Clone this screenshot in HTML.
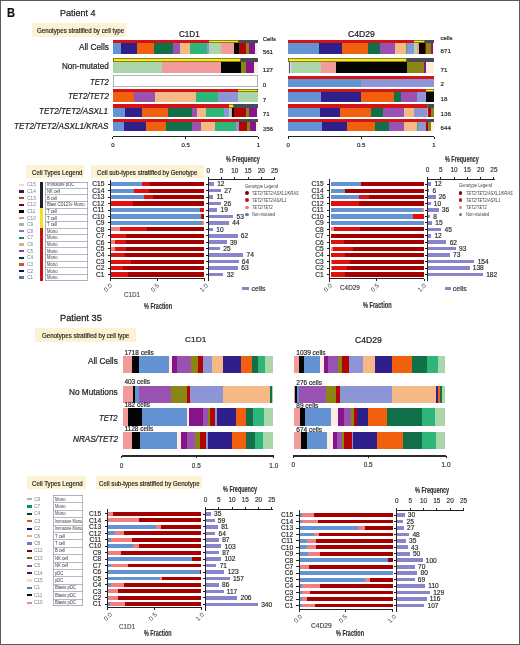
<!DOCTYPE html>
<html><head><meta charset="utf-8"><style>
html,body{margin:0;padding:0;background:#fff;}
body{will-change:transform;width:520px;height:645px;position:relative;overflow:hidden;font-family:"Liberation Sans",sans-serif;}
.r{position:absolute;}
.t{position:absolute;white-space:nowrap;line-height:1;transform-origin:0 0;}
</style></head><body>
<div class="r" style="left:0.00px;top:0.00px;width:520.00px;height:1.10px;background:#5a5a5a;"></div>
<div class="r" style="left:0.00px;top:0.00px;width:1.10px;height:645.00px;background:#5a5a5a;"></div>
<div class="r" style="left:518.80px;top:0.00px;width:1.20px;height:645.00px;background:#5a5a5a;"></div>
<div class="r" style="left:0.00px;top:643.70px;width:520.00px;height:1.30px;background:#5a5a5a;"></div>
<div class="t" style="left:7.00px;top:7.00px;font-size:12.20px;color:#111;font-weight:bold;-webkit-text-stroke:0.18px #111;transform:scaleX(0.908);">B</div>
<div class="t" style="left:59.80px;top:8.00px;font-size:9.60px;color:#222;-webkit-text-stroke:0.25px #222;transform:scaleX(0.939);">Patient 4</div>
<div class="r" style="left:32.00px;top:23.00px;width:94.00px;height:13.80px;background:#fcf2d4;"></div>
<div class="t" style="left:37.30px;top:28.00px;font-size:6.60px;color:#222;-webkit-text-stroke:0.17px #222;transform:scaleX(0.933);">Genotypes stratified by cell type</div>
<div class="t" style="left:178.80px;top:29.00px;font-size:9.40px;color:#222;-webkit-text-stroke:0.24px #222;transform:scaleX(0.865);">C1D1</div>
<div class="t" style="left:348.20px;top:30.00px;font-size:9.00px;color:#222;-webkit-text-stroke:0.23px #222;transform:scaleX(0.957);">C4D29</div>
<div class="r" style="left:113.00px;top:43.30px;width:145.00px;height:10.70px;background:#feeee2;"></div>
<div class="r" style="left:113.00px;top:43.30px;width:142.40px;height:10.70px;background:#88138c;"></div>
<div class="r" style="left:113.00px;top:43.30px;width:136.00px;height:10.70px;background:#8a8612;"></div>
<div class="r" style="left:113.00px;top:43.30px;width:132.60px;height:10.70px;background:#b20404;"></div>
<div class="r" style="left:113.00px;top:43.30px;width:125.70px;height:10.70px;background:#050505;"></div>
<div class="r" style="left:113.00px;top:43.30px;width:121.40px;height:10.70px;background:#f29b9b;"></div>
<div class="r" style="left:113.00px;top:43.30px;width:107.50px;height:10.70px;background:#abd6aa;"></div>
<div class="r" style="left:113.00px;top:43.30px;width:95.60px;height:10.70px;background:#8c95d6;"></div>
<div class="r" style="left:113.00px;top:43.30px;width:93.70px;height:10.70px;background:#2eb57a;"></div>
<div class="r" style="left:113.00px;top:43.30px;width:77.20px;height:10.70px;background:#f6b985;"></div>
<div class="r" style="left:113.00px;top:43.30px;width:66.80px;height:10.70px;background:#9a52b2;"></div>
<div class="r" style="left:113.00px;top:43.30px;width:59.90px;height:10.70px;background:#11704a;"></div>
<div class="r" style="left:113.00px;top:43.30px;width:41.40px;height:10.70px;background:#f1600f;"></div>
<div class="r" style="left:113.00px;top:43.30px;width:24.30px;height:10.70px;background:#2f1f8a;"></div>
<div class="r" style="left:113.00px;top:43.30px;width:8.20px;height:10.70px;background:#6393d3;"></div>
<div class="r" style="left:113.00px;top:40.00px;width:145.00px;height:3.30px;background:#474a57;"></div>
<div class="r" style="left:113.00px;top:40.00px;width:125.70px;height:3.30px;background:#f6e626;box-shadow:inset 0 0 0 0.85px #6a6210;"></div>
<div class="r" style="left:113.00px;top:40.00px;width:95.60px;height:3.30px;background:#d21414;"></div>
<div class="r" style="left:113.00px;top:62.00px;width:145.00px;height:10.60px;background:#feeee2;"></div>
<div class="r" style="left:113.00px;top:62.00px;width:140.60px;height:10.60px;background:#88138c;"></div>
<div class="r" style="left:113.00px;top:62.00px;width:133.00px;height:10.60px;background:#8a8612;"></div>
<div class="r" style="left:113.00px;top:62.00px;width:128.00px;height:10.60px;background:#050505;"></div>
<div class="r" style="left:113.00px;top:62.00px;width:108.30px;height:10.60px;background:#f29b9b;"></div>
<div class="r" style="left:113.00px;top:62.00px;width:49.30px;height:10.60px;background:#abd6aa;"></div>
<div class="r" style="left:113.00px;top:58.30px;width:145.00px;height:3.70px;background:#474a57;"></div>
<div class="r" style="left:113.00px;top:58.30px;width:128.00px;height:3.70px;background:#f6e626;box-shadow:inset 0 0 0 0.85px #6a6210;"></div>
<div class="r" style="left:113.00px;top:75.30px;width:145.00px;height:11.70px;background:#fff;box-shadow:inset 0 0 0 0.8px #9a9aa4;"></div>
<div class="r" style="left:113.00px;top:91.80px;width:145.00px;height:9.90px;background:#abd6aa;"></div>
<div class="r" style="left:113.00px;top:91.80px;width:124.80px;height:9.90px;background:#8c95d6;"></div>
<div class="r" style="left:113.00px;top:91.80px;width:104.50px;height:9.90px;background:#2eb57a;"></div>
<div class="r" style="left:113.00px;top:91.80px;width:82.80px;height:9.90px;background:#f6b985;"></div>
<div class="r" style="left:113.00px;top:91.80px;width:41.60px;height:9.90px;background:#9a52b2;"></div>
<div class="r" style="left:113.00px;top:91.80px;width:20.80px;height:9.90px;background:#f1600f;"></div>
<div class="r" style="left:113.00px;top:88.50px;width:145.00px;height:3.30px;background:#f6e626;box-shadow:inset 0 0 0 0.85px #6a6210;"></div>
<div class="r" style="left:113.00px;top:88.50px;width:124.80px;height:3.30px;background:#d21414;"></div>
<div class="r" style="left:113.00px;top:107.50px;width:145.00px;height:9.20px;background:#feeee2;"></div>
<div class="r" style="left:113.00px;top:107.50px;width:143.50px;height:9.20px;background:#88138c;"></div>
<div class="r" style="left:113.00px;top:107.50px;width:135.50px;height:9.20px;background:#8a8612;"></div>
<div class="r" style="left:113.00px;top:107.50px;width:133.20px;height:9.20px;background:#b20404;"></div>
<div class="r" style="left:113.00px;top:107.50px;width:121.00px;height:9.20px;background:#050505;"></div>
<div class="r" style="left:113.00px;top:107.50px;width:118.70px;height:9.20px;background:#f29b9b;"></div>
<div class="r" style="left:113.00px;top:107.50px;width:117.50px;height:9.20px;background:#abd6aa;"></div>
<div class="r" style="left:113.00px;top:107.50px;width:116.20px;height:9.20px;background:#8c95d6;"></div>
<div class="r" style="left:113.00px;top:107.50px;width:111.20px;height:9.20px;background:#2eb57a;"></div>
<div class="r" style="left:113.00px;top:107.50px;width:92.50px;height:9.20px;background:#f6b985;"></div>
<div class="r" style="left:113.00px;top:107.50px;width:83.70px;height:9.20px;background:#9a52b2;"></div>
<div class="r" style="left:113.00px;top:107.50px;width:78.70px;height:9.20px;background:#11704a;"></div>
<div class="r" style="left:113.00px;top:107.50px;width:55.30px;height:9.20px;background:#f1600f;"></div>
<div class="r" style="left:113.00px;top:107.50px;width:28.70px;height:9.20px;background:#2f1f8a;"></div>
<div class="r" style="left:113.00px;top:107.50px;width:12.20px;height:9.20px;background:#6393d3;"></div>
<div class="r" style="left:113.00px;top:104.00px;width:145.00px;height:3.50px;background:#474a57;"></div>
<div class="r" style="left:113.00px;top:104.00px;width:121.00px;height:3.50px;background:#f6e626;box-shadow:inset 0 0 0 0.85px #6a6210;"></div>
<div class="r" style="left:113.00px;top:104.00px;width:116.20px;height:3.50px;background:#d21414;"></div>
<div class="r" style="left:113.00px;top:122.20px;width:145.00px;height:8.80px;background:#feeee2;"></div>
<div class="r" style="left:113.00px;top:122.20px;width:143.00px;height:8.80px;background:#88138c;"></div>
<div class="r" style="left:113.00px;top:122.20px;width:136.60px;height:8.80px;background:#8a8612;"></div>
<div class="r" style="left:113.00px;top:122.20px;width:133.70px;height:8.80px;background:#b20404;"></div>
<div class="r" style="left:113.00px;top:122.20px;width:125.50px;height:8.80px;background:#8c95d6;"></div>
<div class="r" style="left:113.00px;top:122.20px;width:123.30px;height:8.80px;background:#2eb57a;"></div>
<div class="r" style="left:113.00px;top:122.20px;width:101.50px;height:8.80px;background:#f6b985;"></div>
<div class="r" style="left:113.00px;top:122.20px;width:87.60px;height:8.80px;background:#9a52b2;"></div>
<div class="r" style="left:113.00px;top:122.20px;width:79.00px;height:8.80px;background:#11704a;"></div>
<div class="r" style="left:113.00px;top:122.20px;width:53.30px;height:8.80px;background:#f1600f;"></div>
<div class="r" style="left:113.00px;top:122.20px;width:33.00px;height:8.80px;background:#2f1f8a;"></div>
<div class="r" style="left:113.00px;top:122.20px;width:10.70px;height:8.80px;background:#6393d3;"></div>
<div class="r" style="left:113.00px;top:119.00px;width:145.00px;height:3.20px;background:#474a57;"></div>
<div class="r" style="left:113.00px;top:119.00px;width:125.50px;height:3.20px;background:#d21414;"></div>
<div class="r" style="left:288.20px;top:43.30px;width:145.40px;height:10.70px;background:#feeee2;"></div>
<div class="r" style="left:288.20px;top:43.30px;width:144.60px;height:10.70px;background:#88138c;"></div>
<div class="r" style="left:288.20px;top:43.30px;width:142.80px;height:10.70px;background:#8a8612;"></div>
<div class="r" style="left:288.20px;top:43.30px;width:137.60px;height:10.70px;background:#b20404;"></div>
<div class="r" style="left:288.20px;top:43.30px;width:136.40px;height:10.70px;background:#050505;"></div>
<div class="r" style="left:288.20px;top:43.30px;width:130.60px;height:10.70px;background:#f29b9b;"></div>
<div class="r" style="left:288.20px;top:43.30px;width:129.30px;height:10.70px;background:#abd6aa;"></div>
<div class="r" style="left:288.20px;top:43.30px;width:126.30px;height:10.70px;background:#8c95d6;"></div>
<div class="r" style="left:288.20px;top:43.30px;width:119.30px;height:10.70px;background:#2eb57a;"></div>
<div class="r" style="left:288.20px;top:43.30px;width:117.40px;height:10.70px;background:#f6b985;"></div>
<div class="r" style="left:288.20px;top:43.30px;width:107.00px;height:10.70px;background:#9a52b2;"></div>
<div class="r" style="left:288.20px;top:43.30px;width:91.60px;height:10.70px;background:#11704a;"></div>
<div class="r" style="left:288.20px;top:43.30px;width:79.70px;height:10.70px;background:#f1600f;"></div>
<div class="r" style="left:288.20px;top:43.30px;width:53.90px;height:10.70px;background:#2f1f8a;"></div>
<div class="r" style="left:288.20px;top:43.30px;width:30.80px;height:10.70px;background:#6393d3;"></div>
<div class="r" style="left:288.20px;top:40.00px;width:145.40px;height:3.30px;background:#474a57;"></div>
<div class="r" style="left:288.20px;top:40.00px;width:136.40px;height:3.30px;background:#f6e626;box-shadow:inset 0 0 0 0.85px #6a6210;"></div>
<div class="r" style="left:288.20px;top:40.00px;width:126.30px;height:3.30px;background:#d21414;"></div>
<div class="r" style="left:288.20px;top:62.00px;width:145.40px;height:10.60px;background:#feeee2;"></div>
<div class="r" style="left:288.20px;top:62.00px;width:137.80px;height:10.60px;background:#88138c;"></div>
<div class="r" style="left:288.20px;top:62.00px;width:135.80px;height:10.60px;background:#8a8612;"></div>
<div class="r" style="left:288.20px;top:62.00px;width:119.10px;height:10.60px;background:#050505;"></div>
<div class="r" style="left:288.20px;top:62.00px;width:47.60px;height:10.60px;background:#f29b9b;"></div>
<div class="r" style="left:288.20px;top:62.00px;width:33.10px;height:10.60px;background:#abd6aa;"></div>
<div class="r" style="left:288.20px;top:62.00px;width:3.10px;height:10.60px;background:#d6e2ea;"></div>
<div class="r" style="left:288.20px;top:62.00px;width:2.20px;height:10.60px;background:#5c4a86;"></div>
<div class="r" style="left:288.20px;top:62.00px;width:0.50px;height:10.60px;background:#f4eef4;"></div>
<div class="r" style="left:288.20px;top:58.30px;width:145.40px;height:3.70px;background:#474a57;"></div>
<div class="r" style="left:288.20px;top:58.30px;width:119.10px;height:3.70px;background:#f6e626;box-shadow:inset 0 0 0 0.85px #6a6210;"></div>
<div class="r" style="left:288.20px;top:79.00px;width:145.40px;height:8.20px;background:#8c95d6;"></div>
<div class="r" style="left:288.20px;top:79.00px;width:72.60px;height:8.20px;background:#6393d3;"></div>
<div class="r" style="left:288.20px;top:75.50px;width:145.40px;height:3.50px;background:#d21414;"></div>
<div class="r" style="left:288.20px;top:91.80px;width:145.40px;height:9.90px;background:#050505;"></div>
<div class="r" style="left:288.20px;top:91.80px;width:137.80px;height:9.90px;background:#8c95d6;"></div>
<div class="r" style="left:288.20px;top:91.80px;width:128.90px;height:9.90px;background:#9a52b2;"></div>
<div class="r" style="left:288.20px;top:91.80px;width:113.30px;height:9.90px;background:#11704a;"></div>
<div class="r" style="left:288.20px;top:91.80px;width:105.80px;height:9.90px;background:#f1600f;"></div>
<div class="r" style="left:288.20px;top:91.80px;width:73.10px;height:9.90px;background:#2f1f8a;"></div>
<div class="r" style="left:288.20px;top:91.80px;width:32.80px;height:9.90px;background:#6393d3;"></div>
<div class="r" style="left:288.20px;top:88.50px;width:145.40px;height:3.30px;background:#f6e626;box-shadow:inset 0 0 0 0.85px #6a6210;"></div>
<div class="r" style="left:288.20px;top:88.50px;width:137.80px;height:3.30px;background:#d21414;"></div>
<div class="r" style="left:288.20px;top:107.50px;width:145.40px;height:9.20px;background:#8a8612;"></div>
<div class="r" style="left:288.20px;top:107.50px;width:142.80px;height:9.20px;background:#b20404;"></div>
<div class="r" style="left:288.20px;top:107.50px;width:139.80px;height:9.20px;background:#f29b9b;"></div>
<div class="r" style="left:288.20px;top:107.50px;width:138.50px;height:9.20px;background:#8c95d6;"></div>
<div class="r" style="left:288.20px;top:107.50px;width:126.00px;height:9.20px;background:#f6b985;"></div>
<div class="r" style="left:288.20px;top:107.50px;width:115.60px;height:9.20px;background:#9a52b2;"></div>
<div class="r" style="left:288.20px;top:107.50px;width:94.80px;height:9.20px;background:#11704a;"></div>
<div class="r" style="left:288.20px;top:107.50px;width:83.00px;height:9.20px;background:#f1600f;"></div>
<div class="r" style="left:288.20px;top:107.50px;width:51.80px;height:9.20px;background:#2f1f8a;"></div>
<div class="r" style="left:288.20px;top:107.50px;width:31.60px;height:9.20px;background:#6393d3;"></div>
<div class="r" style="left:288.20px;top:104.00px;width:145.40px;height:3.50px;background:#474a57;"></div>
<div class="r" style="left:288.20px;top:104.00px;width:139.80px;height:3.50px;background:#f6e626;box-shadow:inset 0 0 0 0.85px #6a6210;"></div>
<div class="r" style="left:288.20px;top:104.00px;width:138.50px;height:3.50px;background:#d21414;"></div>
<div class="r" style="left:288.20px;top:122.20px;width:145.40px;height:8.80px;background:#feeee2;"></div>
<div class="r" style="left:288.20px;top:122.20px;width:142.80px;height:8.80px;background:#8a8612;"></div>
<div class="r" style="left:288.20px;top:122.20px;width:139.80px;height:8.80px;background:#b20404;"></div>
<div class="r" style="left:288.20px;top:122.20px;width:137.60px;height:8.80px;background:#8c95d6;"></div>
<div class="r" style="left:288.20px;top:122.20px;width:130.10px;height:8.80px;background:#2eb57a;"></div>
<div class="r" style="left:288.20px;top:122.20px;width:128.60px;height:8.80px;background:#f6b985;"></div>
<div class="r" style="left:288.20px;top:122.20px;width:116.20px;height:8.80px;background:#9a52b2;"></div>
<div class="r" style="left:288.20px;top:122.20px;width:100.80px;height:8.80px;background:#11704a;"></div>
<div class="r" style="left:288.20px;top:122.20px;width:87.00px;height:8.80px;background:#f1600f;"></div>
<div class="r" style="left:288.20px;top:122.20px;width:59.30px;height:8.80px;background:#2f1f8a;"></div>
<div class="r" style="left:288.20px;top:122.20px;width:33.50px;height:8.80px;background:#6393d3;"></div>
<div class="r" style="left:288.20px;top:119.00px;width:145.40px;height:3.20px;background:#474a57;"></div>
<div class="r" style="left:288.20px;top:119.00px;width:137.60px;height:3.20px;background:#d21414;"></div>
<div class="t" style="left:78.50px;top:43.00px;font-size:9.20px;color:#222;-webkit-text-stroke:0.24px #222;transform:scaleX(0.900);">All Cells</div>
<div class="t" style="left:61.50px;top:62.00px;font-size:9.20px;color:#222;-webkit-text-stroke:0.24px #222;transform:scaleX(0.882);">Non-mutated</div>
<div class="t" style="left:89.60px;top:78.00px;font-size:9.20px;color:#222;-webkit-text-stroke:0.24px #222;font-style:italic;transform:scaleX(0.836);">TET2</div>
<div class="t" style="left:67.50px;top:92.00px;font-size:9.20px;color:#222;-webkit-text-stroke:0.24px #222;font-style:italic;transform:scaleX(0.860);">TET2/TET2</div>
<div class="t" style="left:39.40px;top:107.00px;font-size:9.20px;color:#222;-webkit-text-stroke:0.24px #222;font-style:italic;transform:scaleX(0.876);">TET2/TET2/ASXL1</div>
<div class="t" style="left:13.70px;top:122.00px;font-size:9.20px;color:#222;-webkit-text-stroke:0.24px #222;font-style:italic;transform:scaleX(0.890);">TET2/TET2/ASXL1/KRAS</div>
<div class="t" style="left:262.70px;top:36.00px;font-size:6.00px;color:#222;-webkit-text-stroke:0.16px #222;">Cells</div>
<div class="t" style="left:262.70px;top:49.00px;font-size:6.20px;color:#222;-webkit-text-stroke:0.16px #222;">561</div>
<div class="t" style="left:262.70px;top:67.00px;font-size:6.20px;color:#222;-webkit-text-stroke:0.16px #222;">127</div>
<div class="t" style="left:262.70px;top:82.00px;font-size:6.20px;color:#222;-webkit-text-stroke:0.16px #222;">0</div>
<div class="t" style="left:262.70px;top:97.00px;font-size:6.20px;color:#222;-webkit-text-stroke:0.16px #222;">7</div>
<div class="t" style="left:262.70px;top:111.00px;font-size:6.20px;color:#222;-webkit-text-stroke:0.16px #222;">71</div>
<div class="t" style="left:262.70px;top:126.00px;font-size:6.20px;color:#222;-webkit-text-stroke:0.16px #222;">356</div>
<div class="t" style="left:440.60px;top:35.00px;font-size:6.00px;color:#222;-webkit-text-stroke:0.16px #222;">cells</div>
<div class="t" style="left:440.60px;top:48.00px;font-size:6.20px;color:#222;-webkit-text-stroke:0.16px #222;">871</div>
<div class="t" style="left:440.60px;top:67.00px;font-size:6.20px;color:#222;-webkit-text-stroke:0.16px #222;">71</div>
<div class="t" style="left:440.60px;top:81.00px;font-size:6.20px;color:#222;-webkit-text-stroke:0.16px #222;">2</div>
<div class="t" style="left:440.60px;top:96.00px;font-size:6.20px;color:#222;-webkit-text-stroke:0.16px #222;">18</div>
<div class="t" style="left:440.60px;top:111.00px;font-size:6.20px;color:#222;-webkit-text-stroke:0.16px #222;">136</div>
<div class="t" style="left:440.60px;top:125.00px;font-size:6.20px;color:#222;-webkit-text-stroke:0.16px #222;">644</div>
<div class="r" style="left:112.80px;top:136.20px;width:145.50px;height:1.00px;background:#222;"></div>
<div class="r" style="left:112.35px;top:136.70px;width:0.90px;height:2.20px;background:#222;"></div>
<div class="t" style="left:111.13px;top:142.00px;font-size:6.00px;color:#222;-webkit-text-stroke:0.16px #222;">0</div>
<div class="r" style="left:185.10px;top:136.70px;width:0.90px;height:2.20px;background:#222;"></div>
<div class="t" style="left:181.38px;top:142.00px;font-size:6.00px;color:#222;-webkit-text-stroke:0.16px #222;">0.5</div>
<div class="r" style="left:257.85px;top:136.70px;width:0.90px;height:2.20px;background:#222;"></div>
<div class="t" style="left:256.63px;top:142.00px;font-size:6.00px;color:#222;-webkit-text-stroke:0.16px #222;">1</div>
<div class="r" style="left:288.20px;top:136.20px;width:145.80px;height:1.00px;background:#222;"></div>
<div class="r" style="left:287.75px;top:136.70px;width:0.90px;height:2.20px;background:#222;"></div>
<div class="t" style="left:286.53px;top:142.00px;font-size:6.00px;color:#222;-webkit-text-stroke:0.16px #222;">0</div>
<div class="r" style="left:360.65px;top:136.70px;width:0.90px;height:2.20px;background:#222;"></div>
<div class="t" style="left:356.93px;top:142.00px;font-size:6.00px;color:#222;-webkit-text-stroke:0.16px #222;">0.5</div>
<div class="r" style="left:433.55px;top:136.70px;width:0.90px;height:2.20px;background:#222;"></div>
<div class="t" style="left:432.33px;top:142.00px;font-size:6.00px;color:#222;-webkit-text-stroke:0.16px #222;">1</div>
<div class="t" style="left:226.00px;top:155.00px;font-size:8.80px;color:#333;font-weight:bold;-webkit-text-stroke:0.18px #333;transform:scaleX(0.617);">% Frequency</div>
<div class="t" style="left:445.40px;top:155.00px;font-size:8.80px;color:#333;font-weight:bold;-webkit-text-stroke:0.18px #333;transform:scaleX(0.617);">% Frequency</div>
<div class="r" style="left:26.20px;top:165.00px;width:57.60px;height:12.80px;background:#fcf2d4;"></div>
<div class="t" style="left:32.30px;top:169.00px;font-size:7.80px;color:#222;-webkit-text-stroke:0.20px #222;transform:scaleX(0.783);">Cell Types Legend</div>
<div class="r" style="left:91.20px;top:165.00px;width:112.80px;height:12.80px;background:#fcf2d4;"></div>
<div class="t" style="left:97.30px;top:169.00px;font-size:7.80px;color:#222;-webkit-text-stroke:0.20px #222;transform:scaleX(0.788);">Cell sub-types stratified by Genotype</div>
<div class="r" style="left:19.10px;top:183.71px;width:5.30px;height:2.40px;background:#f2dccb;"></div>
<div class="t" style="left:27.30px;top:183.00px;font-size:4.60px;color:#737a8c;">C15</div>
<div class="t" style="left:46.70px;top:183.00px;font-size:4.50px;color:#3a3a3a;transform:scaleX(0.930);">Immature pDC</div>
<div class="r" style="left:19.10px;top:190.33px;width:5.30px;height:2.40px;background:#4e0c5c;"></div>
<div class="t" style="left:27.30px;top:190.00px;font-size:4.60px;color:#737a8c;">C14</div>
<div class="r" style="left:45.40px;top:187.87px;width:42.30px;height:0.70px;background:#b4b8c4;"></div>
<div class="t" style="left:46.70px;top:190.00px;font-size:4.50px;color:#3a3a3a;transform:scaleX(0.930);">NK cell</div>
<div class="r" style="left:19.10px;top:196.95px;width:5.30px;height:2.40px;background:#7c6020;"></div>
<div class="t" style="left:27.30px;top:197.00px;font-size:4.60px;color:#737a8c;">C13</div>
<div class="r" style="left:45.40px;top:194.49px;width:42.30px;height:0.70px;background:#b4b8c4;"></div>
<div class="t" style="left:46.70px;top:197.00px;font-size:4.50px;color:#3a3a3a;transform:scaleX(0.930);">B cell</div>
<div class="r" style="left:19.10px;top:203.57px;width:5.30px;height:2.40px;background:#780010;"></div>
<div class="t" style="left:27.30px;top:203.00px;font-size:4.60px;color:#737a8c;">C12</div>
<div class="r" style="left:45.40px;top:201.11px;width:42.30px;height:0.70px;background:#b4b8c4;"></div>
<div class="t" style="left:46.70px;top:203.00px;font-size:4.50px;color:#3a3a3a;transform:scaleX(0.930);">Blast CD123+ Mono</div>
<div class="r" style="left:19.10px;top:210.19px;width:5.30px;height:2.40px;background:#050505;"></div>
<div class="t" style="left:27.30px;top:210.00px;font-size:4.60px;color:#737a8c;">C11</div>
<div class="r" style="left:45.40px;top:207.73px;width:42.30px;height:0.70px;background:#b4b8c4;"></div>
<div class="t" style="left:46.70px;top:210.00px;font-size:4.50px;color:#3a3a3a;transform:scaleX(0.930);">T cell</div>
<div class="r" style="left:19.10px;top:216.81px;width:5.30px;height:2.40px;background:#d8909a;"></div>
<div class="t" style="left:27.30px;top:217.00px;font-size:4.60px;color:#737a8c;">C10</div>
<div class="r" style="left:45.40px;top:214.35px;width:42.30px;height:0.70px;background:#b4b8c4;"></div>
<div class="t" style="left:46.70px;top:217.00px;font-size:4.50px;color:#3a3a3a;transform:scaleX(0.930);">T cell</div>
<div class="r" style="left:19.10px;top:223.43px;width:5.30px;height:2.40px;background:#a4b89c;"></div>
<div class="t" style="left:27.30px;top:223.00px;font-size:4.60px;color:#737a8c;">C9</div>
<div class="r" style="left:45.40px;top:220.97px;width:42.30px;height:0.70px;background:#b4b8c4;"></div>
<div class="t" style="left:46.70px;top:223.00px;font-size:4.50px;color:#3a3a3a;transform:scaleX(0.930);">T cell</div>
<div class="r" style="left:19.10px;top:230.05px;width:5.30px;height:2.40px;background:#7a7ab4;"></div>
<div class="t" style="left:27.30px;top:230.00px;font-size:4.60px;color:#737a8c;">C8</div>
<div class="r" style="left:45.40px;top:227.59px;width:42.30px;height:0.70px;background:#b4b8c4;"></div>
<div class="t" style="left:46.70px;top:230.00px;font-size:4.50px;color:#3a3a3a;transform:scaleX(0.930);">Mono</div>
<div class="r" style="left:19.10px;top:236.67px;width:5.30px;height:2.40px;background:#1a8a58;"></div>
<div class="t" style="left:27.30px;top:236.00px;font-size:4.60px;color:#737a8c;">C7</div>
<div class="r" style="left:45.40px;top:234.21px;width:42.30px;height:0.70px;background:#b4b8c4;"></div>
<div class="t" style="left:46.70px;top:236.00px;font-size:4.50px;color:#3a3a3a;transform:scaleX(0.930);">Mono</div>
<div class="r" style="left:19.10px;top:243.29px;width:5.30px;height:2.40px;background:#dcb084;"></div>
<div class="t" style="left:27.30px;top:243.00px;font-size:4.60px;color:#737a8c;">C6</div>
<div class="r" style="left:45.40px;top:240.83px;width:42.30px;height:0.70px;background:#b4b8c4;"></div>
<div class="t" style="left:46.70px;top:243.00px;font-size:4.50px;color:#3a3a3a;transform:scaleX(0.930);">Mono</div>
<div class="r" style="left:19.10px;top:249.91px;width:5.30px;height:2.40px;background:#7a4a9c;"></div>
<div class="t" style="left:27.30px;top:250.00px;font-size:4.60px;color:#737a8c;">C5</div>
<div class="r" style="left:45.40px;top:247.45px;width:42.30px;height:0.70px;background:#b4b8c4;"></div>
<div class="t" style="left:46.70px;top:250.00px;font-size:4.50px;color:#3a3a3a;transform:scaleX(0.930);">Mono</div>
<div class="r" style="left:19.10px;top:256.53px;width:5.30px;height:2.40px;background:#00402a;"></div>
<div class="t" style="left:27.30px;top:256.00px;font-size:4.60px;color:#737a8c;">C4</div>
<div class="r" style="left:45.40px;top:254.07px;width:42.30px;height:0.70px;background:#b4b8c4;"></div>
<div class="t" style="left:46.70px;top:256.00px;font-size:4.50px;color:#3a3a3a;transform:scaleX(0.930);">Mono</div>
<div class="r" style="left:19.10px;top:263.15px;width:5.30px;height:2.40px;background:#c85a2c;"></div>
<div class="t" style="left:27.30px;top:263.00px;font-size:4.60px;color:#737a8c;">C3</div>
<div class="r" style="left:45.40px;top:260.69px;width:42.30px;height:0.70px;background:#b4b8c4;"></div>
<div class="t" style="left:46.70px;top:263.00px;font-size:4.50px;color:#3a3a3a;transform:scaleX(0.930);">Mono</div>
<div class="r" style="left:19.10px;top:269.77px;width:5.30px;height:2.40px;background:#1c0c58;"></div>
<div class="t" style="left:27.30px;top:270.00px;font-size:4.60px;color:#737a8c;">C2</div>
<div class="r" style="left:45.40px;top:267.31px;width:42.30px;height:0.70px;background:#b4b8c4;"></div>
<div class="t" style="left:46.70px;top:270.00px;font-size:4.50px;color:#3a3a3a;transform:scaleX(0.930);">Mono</div>
<div class="r" style="left:19.10px;top:276.39px;width:5.30px;height:2.40px;background:#5a78a8;"></div>
<div class="t" style="left:27.30px;top:276.00px;font-size:4.60px;color:#737a8c;">C1</div>
<div class="r" style="left:45.40px;top:273.93px;width:42.30px;height:0.70px;background:#b4b8c4;"></div>
<div class="t" style="left:46.70px;top:276.00px;font-size:4.50px;color:#3a3a3a;transform:scaleX(0.930);">Mono</div>
<div class="r" style="left:45.40px;top:181.60px;width:42.30px;height:99.30px;background:transparent;box-shadow:inset 0 0 0 0.7px #9098b0;"></div>
<div class="r" style="left:40.30px;top:181.60px;width:2.40px;height:26.48px;background:#222;"></div>
<div class="r" style="left:40.30px;top:208.08px;width:2.40px;height:19.86px;background:#f2e21e;"></div>
<div class="r" style="left:40.30px;top:227.94px;width:2.40px;height:52.96px;background:#c81010;"></div>
<div class="r" style="left:110.00px;top:179.80px;width:1.00px;height:101.70px;background:#222;"></div>
<div class="r" style="left:110.00px;top:278.25px;width:94.70px;height:0.90px;background:#222;"></div>
<div class="r" style="left:110.05px;top:278.70px;width:0.90px;height:2.80px;background:#222;"></div>
<div class="r" style="left:156.90px;top:278.70px;width:0.90px;height:2.80px;background:#222;"></div>
<div class="r" style="left:203.75px;top:278.70px;width:0.90px;height:2.80px;background:#222;"></div>
<div class="r" style="left:111.30px;top:182.10px;width:92.90px;height:4.20px;background:#a50000;"></div>
<div class="r" style="left:111.30px;top:182.10px;width:38.30px;height:4.20px;background:#e0100e;"></div>
<div class="r" style="left:111.30px;top:182.10px;width:30.30px;height:4.20px;background:#6393d3;"></div>
<div class="r" style="left:107.50px;top:183.75px;width:3.00px;height:0.90px;background:#222;"></div>
<div class="t" style="left:92.29px;top:181.00px;font-size:6.60px;color:#2a2a2a;-webkit-text-stroke:0.17px #2a2a2a;">C15</div>
<div class="r" style="left:111.30px;top:188.55px;width:92.90px;height:4.20px;background:#a50000;"></div>
<div class="r" style="left:111.30px;top:188.55px;width:37.50px;height:4.20px;background:#e0100e;"></div>
<div class="r" style="left:111.30px;top:188.55px;width:23.20px;height:4.20px;background:#6393d3;"></div>
<div class="r" style="left:107.50px;top:190.20px;width:3.00px;height:0.90px;background:#222;"></div>
<div class="t" style="left:92.29px;top:188.00px;font-size:6.60px;color:#2a2a2a;-webkit-text-stroke:0.17px #2a2a2a;">C14</div>
<div class="r" style="left:111.30px;top:195.00px;width:92.90px;height:4.20px;background:#a50000;"></div>
<div class="r" style="left:111.30px;top:195.00px;width:42.20px;height:4.20px;background:#e0100e;"></div>
<div class="r" style="left:111.30px;top:195.00px;width:32.90px;height:4.20px;background:#6393d3;"></div>
<div class="r" style="left:107.50px;top:196.65px;width:3.00px;height:0.90px;background:#222;"></div>
<div class="t" style="left:92.29px;top:194.00px;font-size:6.60px;color:#2a2a2a;-webkit-text-stroke:0.17px #2a2a2a;">C13</div>
<div class="r" style="left:111.30px;top:201.45px;width:92.90px;height:4.20px;background:#a50000;"></div>
<div class="r" style="left:111.30px;top:201.45px;width:21.40px;height:4.20px;background:#e0100e;"></div>
<div class="r" style="left:107.50px;top:203.10px;width:3.00px;height:0.90px;background:#222;"></div>
<div class="t" style="left:92.29px;top:201.00px;font-size:6.60px;color:#2a2a2a;-webkit-text-stroke:0.17px #2a2a2a;">C12</div>
<div class="r" style="left:111.30px;top:207.90px;width:92.90px;height:4.20px;background:#e0100e;"></div>
<div class="r" style="left:111.30px;top:207.90px;width:88.90px;height:4.20px;background:#6393d3;"></div>
<div class="r" style="left:107.50px;top:209.55px;width:3.00px;height:0.90px;background:#222;"></div>
<div class="t" style="left:92.78px;top:207.00px;font-size:6.60px;color:#2a2a2a;-webkit-text-stroke:0.17px #2a2a2a;">C11</div>
<div class="r" style="left:111.30px;top:214.35px;width:92.90px;height:4.20px;background:#a50000;"></div>
<div class="r" style="left:111.30px;top:214.35px;width:91.20px;height:4.20px;background:#e0100e;"></div>
<div class="r" style="left:111.30px;top:214.35px;width:89.50px;height:4.20px;background:#6393d3;"></div>
<div class="r" style="left:107.50px;top:216.00px;width:3.00px;height:0.90px;background:#222;"></div>
<div class="t" style="left:92.29px;top:214.00px;font-size:6.60px;color:#2a2a2a;-webkit-text-stroke:0.17px #2a2a2a;">C10</div>
<div class="r" style="left:111.30px;top:220.80px;width:92.90px;height:4.20px;background:#f07f7f;"></div>
<div class="r" style="left:111.30px;top:220.80px;width:91.20px;height:4.20px;background:#6393d3;"></div>
<div class="r" style="left:107.50px;top:222.45px;width:3.00px;height:0.90px;background:#222;"></div>
<div class="t" style="left:95.96px;top:220.00px;font-size:6.60px;color:#2a2a2a;-webkit-text-stroke:0.17px #2a2a2a;">C9</div>
<div class="r" style="left:111.30px;top:227.25px;width:92.90px;height:4.20px;background:#a50000;"></div>
<div class="r" style="left:111.30px;top:227.25px;width:36.10px;height:4.20px;background:#e0100e;"></div>
<div class="r" style="left:111.30px;top:227.25px;width:8.60px;height:4.20px;background:#f07f7f;"></div>
<div class="r" style="left:107.50px;top:228.90px;width:3.00px;height:0.90px;background:#222;"></div>
<div class="t" style="left:95.96px;top:227.00px;font-size:6.60px;color:#2a2a2a;-webkit-text-stroke:0.17px #2a2a2a;">C8</div>
<div class="r" style="left:111.30px;top:233.70px;width:92.90px;height:4.20px;background:#a50000;"></div>
<div class="r" style="left:111.30px;top:233.70px;width:15.00px;height:4.20px;background:#e0100e;"></div>
<div class="r" style="left:107.50px;top:235.35px;width:3.00px;height:0.90px;background:#222;"></div>
<div class="t" style="left:95.96px;top:233.00px;font-size:6.60px;color:#2a2a2a;-webkit-text-stroke:0.17px #2a2a2a;">C7</div>
<div class="r" style="left:111.30px;top:240.15px;width:92.90px;height:4.20px;background:#a50000;"></div>
<div class="r" style="left:111.30px;top:240.15px;width:15.00px;height:4.20px;background:#e0100e;"></div>
<div class="r" style="left:111.30px;top:240.15px;width:3.50px;height:4.20px;background:#f07f7f;"></div>
<div class="r" style="left:107.50px;top:241.80px;width:3.00px;height:0.90px;background:#222;"></div>
<div class="t" style="left:95.96px;top:240.00px;font-size:6.60px;color:#2a2a2a;-webkit-text-stroke:0.17px #2a2a2a;">C6</div>
<div class="r" style="left:111.30px;top:246.60px;width:92.90px;height:4.20px;background:#a50000;"></div>
<div class="r" style="left:111.30px;top:246.60px;width:15.00px;height:4.20px;background:#e0100e;"></div>
<div class="r" style="left:111.30px;top:246.60px;width:3.50px;height:4.20px;background:#f07f7f;"></div>
<div class="r" style="left:107.50px;top:248.25px;width:3.00px;height:0.90px;background:#222;"></div>
<div class="t" style="left:95.96px;top:246.00px;font-size:6.60px;color:#2a2a2a;-webkit-text-stroke:0.17px #2a2a2a;">C5</div>
<div class="r" style="left:111.30px;top:253.05px;width:92.90px;height:4.20px;background:#a50000;"></div>
<div class="r" style="left:111.30px;top:253.05px;width:13.30px;height:4.20px;background:#e0100e;"></div>
<div class="r" style="left:107.50px;top:254.70px;width:3.00px;height:0.90px;background:#222;"></div>
<div class="t" style="left:95.96px;top:252.00px;font-size:6.60px;color:#2a2a2a;-webkit-text-stroke:0.17px #2a2a2a;">C4</div>
<div class="r" style="left:111.30px;top:259.50px;width:92.90px;height:4.20px;background:#a50000;"></div>
<div class="r" style="left:111.30px;top:259.50px;width:19.70px;height:4.20px;background:#e0100e;"></div>
<div class="r" style="left:107.50px;top:261.15px;width:3.00px;height:0.90px;background:#222;"></div>
<div class="t" style="left:95.96px;top:259.00px;font-size:6.60px;color:#2a2a2a;-webkit-text-stroke:0.17px #2a2a2a;">C3</div>
<div class="r" style="left:111.30px;top:265.95px;width:92.90px;height:4.20px;background:#a50000;"></div>
<div class="r" style="left:111.30px;top:265.95px;width:11.60px;height:4.20px;background:#e0100e;"></div>
<div class="r" style="left:107.50px;top:267.60px;width:3.00px;height:0.90px;background:#222;"></div>
<div class="t" style="left:95.96px;top:265.00px;font-size:6.60px;color:#2a2a2a;-webkit-text-stroke:0.17px #2a2a2a;">C2</div>
<div class="r" style="left:111.30px;top:272.40px;width:92.90px;height:4.20px;background:#a50000;"></div>
<div class="r" style="left:111.30px;top:272.40px;width:16.70px;height:4.20px;background:#e0100e;"></div>
<div class="r" style="left:107.50px;top:274.05px;width:3.00px;height:0.90px;background:#222;"></div>
<div class="t" style="left:95.96px;top:272.00px;font-size:6.60px;color:#2a2a2a;-webkit-text-stroke:0.17px #2a2a2a;">C1</div>
<div class="r" style="left:329.30px;top:179.00px;width:1.00px;height:102.50px;background:#222;"></div>
<div class="r" style="left:329.30px;top:278.25px;width:95.20px;height:0.90px;background:#222;"></div>
<div class="r" style="left:329.35px;top:278.70px;width:0.90px;height:2.80px;background:#222;"></div>
<div class="r" style="left:376.45px;top:278.70px;width:0.90px;height:2.80px;background:#222;"></div>
<div class="r" style="left:423.55px;top:278.70px;width:0.90px;height:2.80px;background:#222;"></div>
<div class="r" style="left:330.50px;top:182.10px;width:93.50px;height:4.20px;background:#a50000;"></div>
<div class="r" style="left:330.50px;top:182.10px;width:30.30px;height:4.20px;background:#6393d3;"></div>
<div class="r" style="left:326.80px;top:183.75px;width:3.00px;height:0.90px;background:#222;"></div>
<div class="t" style="left:311.49px;top:181.00px;font-size:6.60px;color:#2a2a2a;-webkit-text-stroke:0.17px #2a2a2a;">C15</div>
<div class="r" style="left:330.50px;top:188.55px;width:93.50px;height:4.20px;background:#a50000;"></div>
<div class="r" style="left:330.50px;top:188.55px;width:14.70px;height:4.20px;background:#6393d3;"></div>
<div class="r" style="left:326.80px;top:190.20px;width:3.00px;height:0.90px;background:#222;"></div>
<div class="t" style="left:311.49px;top:188.00px;font-size:6.60px;color:#2a2a2a;-webkit-text-stroke:0.17px #2a2a2a;">C14</div>
<div class="r" style="left:330.50px;top:195.00px;width:93.50px;height:4.20px;background:#a50000;"></div>
<div class="r" style="left:330.50px;top:195.00px;width:38.90px;height:4.20px;background:#e0100e;"></div>
<div class="r" style="left:330.50px;top:195.00px;width:28.50px;height:4.20px;background:#6393d3;"></div>
<div class="r" style="left:326.80px;top:196.65px;width:3.00px;height:0.90px;background:#222;"></div>
<div class="t" style="left:311.49px;top:194.00px;font-size:6.60px;color:#2a2a2a;-webkit-text-stroke:0.17px #2a2a2a;">C13</div>
<div class="r" style="left:330.50px;top:201.45px;width:93.50px;height:4.20px;background:#a50000;"></div>
<div class="r" style="left:330.50px;top:201.45px;width:28.00px;height:4.20px;background:#e0100e;"></div>
<div class="r" style="left:326.80px;top:203.10px;width:3.00px;height:0.90px;background:#222;"></div>
<div class="t" style="left:311.49px;top:201.00px;font-size:6.60px;color:#2a2a2a;-webkit-text-stroke:0.17px #2a2a2a;">C12</div>
<div class="r" style="left:330.50px;top:207.90px;width:93.50px;height:4.20px;background:#f07f7f;"></div>
<div class="r" style="left:330.50px;top:207.90px;width:91.70px;height:4.20px;background:#6393d3;"></div>
<div class="r" style="left:326.80px;top:209.55px;width:3.00px;height:0.90px;background:#222;"></div>
<div class="t" style="left:311.98px;top:207.00px;font-size:6.60px;color:#2a2a2a;-webkit-text-stroke:0.17px #2a2a2a;">C11</div>
<div class="r" style="left:330.50px;top:214.35px;width:93.50px;height:4.20px;background:#e0100e;"></div>
<div class="r" style="left:330.50px;top:214.35px;width:82.00px;height:4.20px;background:#6393d3;"></div>
<div class="r" style="left:326.80px;top:216.00px;width:3.00px;height:0.90px;background:#222;"></div>
<div class="t" style="left:311.49px;top:214.00px;font-size:6.60px;color:#2a2a2a;-webkit-text-stroke:0.17px #2a2a2a;">C10</div>
<div class="r" style="left:330.50px;top:220.80px;width:93.50px;height:4.20px;background:#6393d3;"></div>
<div class="r" style="left:326.80px;top:222.45px;width:3.00px;height:0.90px;background:#222;"></div>
<div class="t" style="left:315.16px;top:220.00px;font-size:6.60px;color:#2a2a2a;-webkit-text-stroke:0.17px #2a2a2a;">C9</div>
<div class="r" style="left:330.50px;top:227.25px;width:93.50px;height:4.20px;background:#a50000;"></div>
<div class="r" style="left:330.50px;top:227.25px;width:29.10px;height:4.20px;background:#e0100e;"></div>
<div class="r" style="left:330.50px;top:227.25px;width:3.20px;height:4.20px;background:#f07f7f;"></div>
<div class="r" style="left:326.80px;top:228.90px;width:3.00px;height:0.90px;background:#222;"></div>
<div class="t" style="left:315.16px;top:227.00px;font-size:6.60px;color:#2a2a2a;-webkit-text-stroke:0.17px #2a2a2a;">C8</div>
<div class="r" style="left:330.50px;top:233.70px;width:93.50px;height:4.20px;background:#a50000;"></div>
<div class="r" style="left:326.80px;top:235.35px;width:3.00px;height:0.90px;background:#222;"></div>
<div class="t" style="left:315.16px;top:233.00px;font-size:6.60px;color:#2a2a2a;-webkit-text-stroke:0.17px #2a2a2a;">C7</div>
<div class="r" style="left:330.50px;top:240.15px;width:93.50px;height:4.20px;background:#a50000;"></div>
<div class="r" style="left:330.50px;top:240.15px;width:13.00px;height:4.20px;background:#e0100e;"></div>
<div class="r" style="left:326.80px;top:241.80px;width:3.00px;height:0.90px;background:#222;"></div>
<div class="t" style="left:315.16px;top:240.00px;font-size:6.60px;color:#2a2a2a;-webkit-text-stroke:0.17px #2a2a2a;">C6</div>
<div class="r" style="left:330.50px;top:246.60px;width:93.50px;height:4.20px;background:#a50000;"></div>
<div class="r" style="left:330.50px;top:246.60px;width:22.20px;height:4.20px;background:#e0100e;"></div>
<div class="r" style="left:330.50px;top:246.60px;width:2.50px;height:4.20px;background:#f07f7f;"></div>
<div class="r" style="left:326.80px;top:248.25px;width:3.00px;height:0.90px;background:#222;"></div>
<div class="t" style="left:315.16px;top:246.00px;font-size:6.60px;color:#2a2a2a;-webkit-text-stroke:0.17px #2a2a2a;">C5</div>
<div class="r" style="left:330.50px;top:253.05px;width:93.50px;height:4.20px;background:#a50000;"></div>
<div class="r" style="left:330.50px;top:253.05px;width:14.10px;height:4.20px;background:#e0100e;"></div>
<div class="r" style="left:326.80px;top:254.70px;width:3.00px;height:0.90px;background:#222;"></div>
<div class="t" style="left:315.16px;top:252.00px;font-size:6.60px;color:#2a2a2a;-webkit-text-stroke:0.17px #2a2a2a;">C4</div>
<div class="r" style="left:330.50px;top:259.50px;width:93.50px;height:4.20px;background:#a50000;"></div>
<div class="r" style="left:330.50px;top:259.50px;width:19.30px;height:4.20px;background:#e0100e;"></div>
<div class="r" style="left:330.50px;top:259.50px;width:1.50px;height:4.20px;background:#f07f7f;"></div>
<div class="r" style="left:326.80px;top:261.15px;width:3.00px;height:0.90px;background:#222;"></div>
<div class="t" style="left:315.16px;top:259.00px;font-size:6.60px;color:#2a2a2a;-webkit-text-stroke:0.17px #2a2a2a;">C3</div>
<div class="r" style="left:330.50px;top:265.95px;width:93.50px;height:4.20px;background:#a50000;"></div>
<div class="r" style="left:330.50px;top:265.95px;width:16.40px;height:4.20px;background:#e0100e;"></div>
<div class="r" style="left:330.50px;top:265.95px;width:1.50px;height:4.20px;background:#f07f7f;"></div>
<div class="r" style="left:326.80px;top:267.60px;width:3.00px;height:0.90px;background:#222;"></div>
<div class="t" style="left:315.16px;top:265.00px;font-size:6.60px;color:#2a2a2a;-webkit-text-stroke:0.17px #2a2a2a;">C2</div>
<div class="r" style="left:330.50px;top:272.40px;width:93.50px;height:4.20px;background:#a50000;"></div>
<div class="r" style="left:330.50px;top:272.40px;width:14.50px;height:4.20px;background:#e0100e;"></div>
<div class="r" style="left:326.80px;top:274.05px;width:3.00px;height:0.90px;background:#222;"></div>
<div class="t" style="left:315.16px;top:272.00px;font-size:6.60px;color:#2a2a2a;-webkit-text-stroke:0.17px #2a2a2a;">C1</div>
<div class="r" style="left:207.80px;top:179.10px;width:1.00px;height:102.40px;background:#222;"></div>
<div class="r" style="left:207.80px;top:179.10px;width:67.60px;height:1.00px;background:#222;"></div>
<div class="r" style="left:207.85px;top:177.40px;width:0.90px;height:2.20px;background:#222;"></div>
<div class="t" style="left:206.52px;top:168.00px;font-size:6.40px;color:#333;-webkit-text-stroke:0.17px #333;">0</div>
<div class="r" style="left:221.11px;top:177.40px;width:0.90px;height:2.20px;background:#222;"></div>
<div class="t" style="left:219.78px;top:168.00px;font-size:6.40px;color:#333;-webkit-text-stroke:0.17px #333;">5</div>
<div class="r" style="left:234.37px;top:177.40px;width:0.90px;height:2.20px;background:#222;"></div>
<div class="t" style="left:231.26px;top:168.00px;font-size:6.40px;color:#333;-webkit-text-stroke:0.17px #333;">10</div>
<div class="r" style="left:247.63px;top:177.40px;width:0.90px;height:2.20px;background:#222;"></div>
<div class="t" style="left:244.52px;top:168.00px;font-size:6.40px;color:#333;-webkit-text-stroke:0.17px #333;">15</div>
<div class="r" style="left:260.89px;top:177.40px;width:0.90px;height:2.20px;background:#222;"></div>
<div class="t" style="left:257.78px;top:168.00px;font-size:6.40px;color:#333;-webkit-text-stroke:0.17px #333;">20</div>
<div class="r" style="left:274.15px;top:177.40px;width:0.90px;height:2.20px;background:#222;"></div>
<div class="t" style="left:271.04px;top:168.00px;font-size:6.40px;color:#333;-webkit-text-stroke:0.17px #333;">25</div>
<div class="r" style="left:208.80px;top:182.40px;width:5.17px;height:3.60px;background:#8a85cb;"></div>
<div class="r" style="left:205.80px;top:183.75px;width:2.50px;height:0.90px;background:#222;"></div>
<div class="t" style="left:217.17px;top:181.00px;font-size:6.60px;color:#2a2a2a;-webkit-text-stroke:0.17px #2a2a2a;">12</div>
<div class="r" style="left:208.80px;top:188.85px;width:12.26px;height:3.60px;background:#8a85cb;"></div>
<div class="r" style="left:205.80px;top:190.20px;width:2.50px;height:0.90px;background:#222;"></div>
<div class="t" style="left:224.26px;top:188.00px;font-size:6.60px;color:#2a2a2a;-webkit-text-stroke:0.17px #2a2a2a;">27</div>
<div class="r" style="left:208.80px;top:195.30px;width:4.70px;height:3.60px;background:#8a85cb;"></div>
<div class="r" style="left:205.80px;top:196.65px;width:2.50px;height:0.90px;background:#222;"></div>
<div class="t" style="left:216.70px;top:194.00px;font-size:6.60px;color:#2a2a2a;-webkit-text-stroke:0.17px #2a2a2a;">11</div>
<div class="r" style="left:208.80px;top:201.75px;width:11.79px;height:3.60px;background:#8a85cb;"></div>
<div class="r" style="left:205.80px;top:203.10px;width:2.50px;height:0.90px;background:#222;"></div>
<div class="t" style="left:223.79px;top:201.00px;font-size:6.60px;color:#2a2a2a;-webkit-text-stroke:0.17px #2a2a2a;">26</div>
<div class="r" style="left:208.80px;top:208.20px;width:8.48px;height:3.60px;background:#8a85cb;"></div>
<div class="r" style="left:205.80px;top:209.55px;width:2.50px;height:0.90px;background:#222;"></div>
<div class="t" style="left:220.48px;top:207.00px;font-size:6.60px;color:#2a2a2a;-webkit-text-stroke:0.17px #2a2a2a;">19</div>
<div class="r" style="left:208.80px;top:214.65px;width:24.55px;height:3.60px;background:#8a85cb;"></div>
<div class="r" style="left:205.80px;top:216.00px;width:2.50px;height:0.90px;background:#222;"></div>
<div class="t" style="left:236.55px;top:214.00px;font-size:6.60px;color:#2a2a2a;-webkit-text-stroke:0.17px #2a2a2a;">53</div>
<div class="r" style="left:208.80px;top:221.10px;width:20.30px;height:3.60px;background:#8a85cb;"></div>
<div class="r" style="left:205.80px;top:222.45px;width:2.50px;height:0.90px;background:#222;"></div>
<div class="t" style="left:232.30px;top:220.00px;font-size:6.60px;color:#2a2a2a;-webkit-text-stroke:0.17px #2a2a2a;">44</div>
<div class="r" style="left:208.80px;top:227.55px;width:4.23px;height:3.60px;background:#8a85cb;"></div>
<div class="r" style="left:205.80px;top:228.90px;width:2.50px;height:0.90px;background:#222;"></div>
<div class="t" style="left:216.23px;top:227.00px;font-size:6.60px;color:#2a2a2a;-webkit-text-stroke:0.17px #2a2a2a;">10</div>
<div class="r" style="left:208.80px;top:234.00px;width:28.81px;height:3.60px;background:#8a85cb;"></div>
<div class="r" style="left:205.80px;top:235.35px;width:2.50px;height:0.90px;background:#222;"></div>
<div class="t" style="left:240.81px;top:233.00px;font-size:6.60px;color:#2a2a2a;-webkit-text-stroke:0.17px #2a2a2a;">62</div>
<div class="r" style="left:208.80px;top:240.45px;width:17.94px;height:3.60px;background:#8a85cb;"></div>
<div class="r" style="left:205.80px;top:241.80px;width:2.50px;height:0.90px;background:#222;"></div>
<div class="t" style="left:229.94px;top:240.00px;font-size:6.60px;color:#2a2a2a;-webkit-text-stroke:0.17px #2a2a2a;">39</div>
<div class="r" style="left:208.80px;top:246.90px;width:11.32px;height:3.60px;background:#8a85cb;"></div>
<div class="r" style="left:205.80px;top:248.25px;width:2.50px;height:0.90px;background:#222;"></div>
<div class="t" style="left:223.32px;top:246.00px;font-size:6.60px;color:#2a2a2a;-webkit-text-stroke:0.17px #2a2a2a;">25</div>
<div class="r" style="left:208.80px;top:253.35px;width:34.48px;height:3.60px;background:#8a85cb;"></div>
<div class="r" style="left:205.80px;top:254.70px;width:2.50px;height:0.90px;background:#222;"></div>
<div class="t" style="left:246.48px;top:252.00px;font-size:6.60px;color:#2a2a2a;-webkit-text-stroke:0.17px #2a2a2a;">74</div>
<div class="r" style="left:208.80px;top:259.80px;width:29.75px;height:3.60px;background:#8a85cb;"></div>
<div class="r" style="left:205.80px;top:261.15px;width:2.50px;height:0.90px;background:#222;"></div>
<div class="t" style="left:241.75px;top:259.00px;font-size:6.60px;color:#2a2a2a;-webkit-text-stroke:0.17px #2a2a2a;">64</div>
<div class="r" style="left:208.80px;top:266.25px;width:29.28px;height:3.60px;background:#8a85cb;"></div>
<div class="r" style="left:205.80px;top:267.60px;width:2.50px;height:0.90px;background:#222;"></div>
<div class="t" style="left:241.28px;top:265.00px;font-size:6.60px;color:#2a2a2a;-webkit-text-stroke:0.17px #2a2a2a;">63</div>
<div class="r" style="left:208.80px;top:272.70px;width:14.63px;height:3.60px;background:#8a85cb;"></div>
<div class="r" style="left:205.80px;top:274.05px;width:2.50px;height:0.90px;background:#222;"></div>
<div class="t" style="left:226.63px;top:272.00px;font-size:6.60px;color:#2a2a2a;-webkit-text-stroke:0.17px #2a2a2a;">32</div>
<div class="r" style="left:427.10px;top:178.90px;width:1.00px;height:102.10px;background:#222;"></div>
<div class="r" style="left:427.10px;top:178.90px;width:67.60px;height:1.00px;background:#222;"></div>
<div class="r" style="left:427.15px;top:177.20px;width:0.90px;height:2.20px;background:#222;"></div>
<div class="t" style="left:425.82px;top:167.00px;font-size:6.40px;color:#333;-webkit-text-stroke:0.17px #333;">0</div>
<div class="r" style="left:440.41px;top:177.20px;width:0.90px;height:2.20px;background:#222;"></div>
<div class="t" style="left:439.08px;top:167.00px;font-size:6.40px;color:#333;-webkit-text-stroke:0.17px #333;">5</div>
<div class="r" style="left:453.67px;top:177.20px;width:0.90px;height:2.20px;background:#222;"></div>
<div class="t" style="left:450.56px;top:167.00px;font-size:6.40px;color:#333;-webkit-text-stroke:0.17px #333;">10</div>
<div class="r" style="left:466.93px;top:177.20px;width:0.90px;height:2.20px;background:#222;"></div>
<div class="t" style="left:463.82px;top:167.00px;font-size:6.40px;color:#333;-webkit-text-stroke:0.17px #333;">15</div>
<div class="r" style="left:480.19px;top:177.20px;width:0.90px;height:2.20px;background:#222;"></div>
<div class="t" style="left:477.08px;top:167.00px;font-size:6.40px;color:#333;-webkit-text-stroke:0.17px #333;">20</div>
<div class="r" style="left:493.45px;top:177.20px;width:0.90px;height:2.20px;background:#222;"></div>
<div class="t" style="left:490.34px;top:167.00px;font-size:6.40px;color:#333;-webkit-text-stroke:0.17px #333;">25</div>
<div class="r" style="left:428.10px;top:182.40px;width:3.15px;height:3.60px;background:#8a85cb;"></div>
<div class="r" style="left:425.10px;top:183.75px;width:2.50px;height:0.90px;background:#222;"></div>
<div class="t" style="left:434.45px;top:181.00px;font-size:6.60px;color:#2a2a2a;-webkit-text-stroke:0.17px #2a2a2a;">12</div>
<div class="r" style="left:428.10px;top:188.85px;width:1.32px;height:3.60px;background:#8a85cb;"></div>
<div class="r" style="left:425.10px;top:190.20px;width:2.50px;height:0.90px;background:#222;"></div>
<div class="t" style="left:432.62px;top:188.00px;font-size:6.60px;color:#2a2a2a;-webkit-text-stroke:0.17px #2a2a2a;">6</div>
<div class="r" style="left:428.10px;top:195.30px;width:7.41px;height:3.60px;background:#8a85cb;"></div>
<div class="r" style="left:425.10px;top:196.65px;width:2.50px;height:0.90px;background:#222;"></div>
<div class="t" style="left:438.71px;top:194.00px;font-size:6.60px;color:#2a2a2a;-webkit-text-stroke:0.17px #2a2a2a;">26</div>
<div class="r" style="left:428.10px;top:201.75px;width:2.54px;height:3.60px;background:#8a85cb;"></div>
<div class="r" style="left:425.10px;top:203.10px;width:2.50px;height:0.90px;background:#222;"></div>
<div class="t" style="left:433.84px;top:201.00px;font-size:6.60px;color:#2a2a2a;-webkit-text-stroke:0.17px #2a2a2a;">10</div>
<div class="r" style="left:428.10px;top:208.20px;width:10.45px;height:3.60px;background:#8a85cb;"></div>
<div class="r" style="left:425.10px;top:209.55px;width:2.50px;height:0.90px;background:#222;"></div>
<div class="t" style="left:441.75px;top:207.00px;font-size:6.60px;color:#2a2a2a;-webkit-text-stroke:0.17px #2a2a2a;">36</div>
<div class="r" style="left:428.10px;top:214.65px;width:1.93px;height:3.60px;background:#8a85cb;"></div>
<div class="r" style="left:425.10px;top:216.00px;width:2.50px;height:0.90px;background:#222;"></div>
<div class="t" style="left:433.23px;top:214.00px;font-size:6.60px;color:#2a2a2a;-webkit-text-stroke:0.17px #2a2a2a;">8</div>
<div class="r" style="left:428.10px;top:221.10px;width:4.06px;height:3.60px;background:#8a85cb;"></div>
<div class="r" style="left:425.10px;top:222.45px;width:2.50px;height:0.90px;background:#222;"></div>
<div class="t" style="left:435.36px;top:220.00px;font-size:6.60px;color:#2a2a2a;-webkit-text-stroke:0.17px #2a2a2a;">15</div>
<div class="r" style="left:428.10px;top:227.55px;width:13.19px;height:3.60px;background:#8a85cb;"></div>
<div class="r" style="left:425.10px;top:228.90px;width:2.50px;height:0.90px;background:#222;"></div>
<div class="t" style="left:444.49px;top:227.00px;font-size:6.60px;color:#2a2a2a;-webkit-text-stroke:0.17px #2a2a2a;">45</div>
<div class="r" style="left:428.10px;top:234.00px;width:3.15px;height:3.60px;background:#8a85cb;"></div>
<div class="r" style="left:425.10px;top:235.35px;width:2.50px;height:0.90px;background:#222;"></div>
<div class="t" style="left:434.45px;top:233.00px;font-size:6.60px;color:#2a2a2a;-webkit-text-stroke:0.17px #2a2a2a;">12</div>
<div class="r" style="left:428.10px;top:240.45px;width:18.36px;height:3.60px;background:#8a85cb;"></div>
<div class="r" style="left:425.10px;top:241.80px;width:2.50px;height:0.90px;background:#222;"></div>
<div class="t" style="left:449.66px;top:240.00px;font-size:6.60px;color:#2a2a2a;-webkit-text-stroke:0.17px #2a2a2a;">62</div>
<div class="r" style="left:428.10px;top:246.90px;width:27.78px;height:3.60px;background:#8a85cb;"></div>
<div class="r" style="left:425.10px;top:248.25px;width:2.50px;height:0.90px;background:#222;"></div>
<div class="t" style="left:459.08px;top:246.00px;font-size:6.60px;color:#2a2a2a;-webkit-text-stroke:0.17px #2a2a2a;">93</div>
<div class="r" style="left:428.10px;top:253.35px;width:21.70px;height:3.60px;background:#8a85cb;"></div>
<div class="r" style="left:425.10px;top:254.70px;width:2.50px;height:0.90px;background:#222;"></div>
<div class="t" style="left:453.00px;top:252.00px;font-size:6.60px;color:#2a2a2a;-webkit-text-stroke:0.17px #2a2a2a;">73</div>
<div class="r" style="left:428.10px;top:259.80px;width:46.34px;height:3.60px;background:#8a85cb;"></div>
<div class="r" style="left:425.10px;top:261.15px;width:2.50px;height:0.90px;background:#222;"></div>
<div class="t" style="left:477.64px;top:259.00px;font-size:6.60px;color:#2a2a2a;-webkit-text-stroke:0.17px #2a2a2a;">154</div>
<div class="r" style="left:428.10px;top:266.25px;width:41.47px;height:3.60px;background:#8a85cb;"></div>
<div class="r" style="left:425.10px;top:267.60px;width:2.50px;height:0.90px;background:#222;"></div>
<div class="t" style="left:472.77px;top:265.00px;font-size:6.60px;color:#2a2a2a;-webkit-text-stroke:0.17px #2a2a2a;">138</div>
<div class="r" style="left:428.10px;top:272.70px;width:54.85px;height:3.60px;background:#8a85cb;"></div>
<div class="r" style="left:425.10px;top:274.05px;width:2.50px;height:0.90px;background:#222;"></div>
<div class="t" style="left:486.15px;top:272.00px;font-size:6.60px;color:#2a2a2a;-webkit-text-stroke:0.17px #2a2a2a;">182</div>
<div class="t" style="left:244.80px;top:185.00px;font-size:4.80px;color:#3a3a3a;transform:scaleX(0.865);">Genotype Legend</div>
<div class="r" style="left:245.00px;top:191.30px;width:3.8px;height:3.8px;border-radius:50%;background:#7c0012"></div>
<div class="t" style="left:252.10px;top:192.00px;font-size:4.80px;color:#444;font-style:italic;transform:scaleX(0.840);">TET2/TET2/ASXL1/KRAS</div>
<div class="r" style="left:245.00px;top:198.30px;width:3.8px;height:3.8px;border-radius:50%;background:#c01222"></div>
<div class="t" style="left:252.10px;top:199.00px;font-size:4.80px;color:#444;font-style:italic;transform:scaleX(0.840);">TET2/TET2/ASXL1</div>
<div class="r" style="left:245.00px;top:205.50px;width:3.8px;height:3.8px;border-radius:50%;background:#e27a84"></div>
<div class="t" style="left:252.10px;top:206.00px;font-size:4.80px;color:#444;font-style:italic;transform:scaleX(0.840);">TET2/TET2</div>
<div class="r" style="left:245.00px;top:212.70px;width:3.8px;height:3.8px;border-radius:50%;background:#5a7ab4"></div>
<div class="t" style="left:252.10px;top:213.00px;font-size:4.80px;color:#444;transform:scaleX(0.840);">Non-mutated</div>
<div class="t" style="left:458.50px;top:184.00px;font-size:4.80px;color:#3a3a3a;transform:scaleX(0.865);">Genotype Legend</div>
<div class="r" style="left:458.70px;top:191.30px;width:3.8px;height:3.8px;border-radius:50%;background:#7c0012"></div>
<div class="t" style="left:465.50px;top:192.00px;font-size:4.80px;color:#444;font-style:italic;transform:scaleX(0.840);">TET2/TET2/ASXL1/KRAS</div>
<div class="r" style="left:458.70px;top:198.30px;width:3.8px;height:3.8px;border-radius:50%;background:#c01222"></div>
<div class="t" style="left:465.50px;top:199.00px;font-size:4.80px;color:#444;font-style:italic;transform:scaleX(0.840);">TET2/TET2/ASXL1</div>
<div class="r" style="left:458.70px;top:205.50px;width:3.8px;height:3.8px;border-radius:50%;background:#e27a84"></div>
<div class="t" style="left:465.50px;top:206.00px;font-size:4.80px;color:#444;font-style:italic;transform:scaleX(0.840);">TET2/TET2</div>
<div class="r" style="left:458.70px;top:212.70px;width:3.8px;height:3.8px;border-radius:50%;background:#5a7ab4"></div>
<div class="t" style="left:465.50px;top:213.00px;font-size:4.80px;color:#444;transform:scaleX(0.840);">Non-mutated</div>
<div class="r" style="left:242.30px;top:287.40px;width:6.60px;height:2.50px;background:#8a85cb;"></div>
<div class="t" style="left:251.50px;top:285.00px;font-size:7.00px;color:#333;-webkit-text-stroke:0.18px #333;">cells</div>
<div class="r" style="left:444.60px;top:287.40px;width:6.20px;height:2.50px;background:#8a85cb;"></div>
<div class="t" style="left:452.80px;top:285.00px;font-size:7.00px;color:#333;-webkit-text-stroke:0.18px #333;">cells</div>
<div class="t" style="left:104.44px;top:281.27px;font-size:6.30px;color:#333;transform-origin:8.76px 5.33px;transform:rotate(-45deg);">0.0</div>
<div class="t" style="left:151.24px;top:281.27px;font-size:6.30px;color:#333;transform-origin:8.76px 5.33px;transform:rotate(-45deg);">0.5</div>
<div class="t" style="left:199.64px;top:281.27px;font-size:6.30px;color:#333;transform-origin:8.76px 5.33px;transform:rotate(-45deg);">1.0</div>
<div class="t" style="left:323.64px;top:281.27px;font-size:6.30px;color:#333;transform-origin:8.76px 5.33px;transform:rotate(-45deg);">0.0</div>
<div class="t" style="left:371.44px;top:281.27px;font-size:6.30px;color:#333;transform-origin:8.76px 5.33px;transform:rotate(-45deg);">0.5</div>
<div class="t" style="left:417.94px;top:281.27px;font-size:6.30px;color:#333;transform-origin:8.76px 5.33px;transform:rotate(-45deg);">1.0</div>
<div class="t" style="left:123.90px;top:292.00px;font-size:6.60px;color:#555;-webkit-text-stroke:0.17px #555;transform:scaleX(0.954);">C1D1</div>
<div class="t" style="left:340.00px;top:285.00px;font-size:6.40px;color:#444;-webkit-text-stroke:0.17px #444;">C4D29</div>
<div class="t" style="left:143.50px;top:302.00px;font-size:8.60px;color:#333;font-weight:bold;-webkit-text-stroke:0.18px #333;transform:scaleX(0.637);">% Fraction</div>
<div class="t" style="left:362.50px;top:301.00px;font-size:8.60px;color:#333;font-weight:bold;-webkit-text-stroke:0.18px #333;transform:scaleX(0.651);">% Fraction</div>
<div class="t" style="left:59.60px;top:313.00px;font-size:9.90px;color:#222;-webkit-text-stroke:0.26px #222;transform:scaleX(0.940);">Patient 35</div>
<div class="r" style="left:35.30px;top:327.50px;width:100.50px;height:14.40px;background:#fcf2d4;"></div>
<div class="t" style="left:41.60px;top:333.00px;font-size:6.60px;color:#222;-webkit-text-stroke:0.17px #222;transform:scaleX(0.934);">Genotypes stratified by cell type</div>
<div class="t" style="left:185.00px;top:336.00px;font-size:7.80px;color:#222;-webkit-text-stroke:0.20px #222;transform:scaleX(1.068);">C1D1</div>
<div class="t" style="left:355.00px;top:337.00px;font-size:8.20px;color:#222;-webkit-text-stroke:0.21px #222;transform:scaleX(1.050);">C4D29</div>
<div class="r" style="left:123.10px;top:355.80px;width:149.70px;height:16.80px;background:#abd6aa;"></div>
<div class="r" style="left:123.10px;top:355.80px;width:142.20px;height:16.80px;background:#2eb57a;"></div>
<div class="r" style="left:123.10px;top:355.80px;width:135.40px;height:16.80px;background:#11704a;"></div>
<div class="r" style="left:123.10px;top:355.80px;width:128.70px;height:16.80px;background:#f1600f;"></div>
<div class="r" style="left:123.10px;top:355.80px;width:118.30px;height:16.80px;background:#2f1f8a;"></div>
<div class="r" style="left:123.10px;top:355.80px;width:100.00px;height:16.80px;background:#f6b985;"></div>
<div class="r" style="left:123.10px;top:355.80px;width:88.70px;height:16.80px;background:#8c95d6;"></div>
<div class="r" style="left:123.10px;top:355.80px;width:80.40px;height:16.80px;background:#b20404;"></div>
<div class="r" style="left:123.10px;top:355.80px;width:74.90px;height:16.80px;background:#8a8612;"></div>
<div class="r" style="left:123.10px;top:355.80px;width:67.70px;height:16.80px;background:#9a52b2;"></div>
<div class="r" style="left:123.10px;top:355.80px;width:53.80px;height:16.80px;background:#88138c;"></div>
<div class="r" style="left:123.10px;top:355.80px;width:49.20px;height:16.80px;background:#feeee2;"></div>
<div class="r" style="left:123.10px;top:355.80px;width:46.10px;height:16.80px;background:#6393d3;"></div>
<div class="r" style="left:123.10px;top:355.80px;width:16.40px;height:16.80px;background:#050505;"></div>
<div class="r" style="left:123.10px;top:355.80px;width:8.70px;height:16.80px;background:#f29b9b;"></div>
<div class="r" style="left:123.10px;top:385.50px;width:149.70px;height:17.40px;background:#abd6aa;"></div>
<div class="r" style="left:123.10px;top:385.50px;width:148.90px;height:17.40px;background:#11704a;"></div>
<div class="r" style="left:123.10px;top:385.50px;width:146.60px;height:17.40px;background:#f6b985;"></div>
<div class="r" style="left:123.10px;top:385.50px;width:100.30px;height:17.40px;background:#8c95d6;"></div>
<div class="r" style="left:123.10px;top:385.50px;width:66.60px;height:17.40px;background:#b20404;"></div>
<div class="r" style="left:123.10px;top:385.50px;width:64.10px;height:17.40px;background:#8a8612;"></div>
<div class="r" style="left:123.10px;top:385.50px;width:48.40px;height:17.40px;background:#9a52b2;"></div>
<div class="r" style="left:123.10px;top:385.50px;width:16.10px;height:17.40px;background:#6393d3;"></div>
<div class="r" style="left:123.10px;top:385.50px;width:11.50px;height:17.40px;background:#050505;"></div>
<div class="r" style="left:123.10px;top:385.50px;width:10.00px;height:17.40px;background:#f29b9b;"></div>
<div class="r" style="left:123.10px;top:408.40px;width:149.70px;height:17.40px;background:#abd6aa;"></div>
<div class="r" style="left:123.10px;top:408.40px;width:140.60px;height:17.40px;background:#2eb57a;"></div>
<div class="r" style="left:123.10px;top:408.40px;width:130.40px;height:17.40px;background:#11704a;"></div>
<div class="r" style="left:123.10px;top:408.40px;width:122.70px;height:17.40px;background:#f1600f;"></div>
<div class="r" style="left:123.10px;top:408.40px;width:112.70px;height:17.40px;background:#2f1f8a;"></div>
<div class="r" style="left:123.10px;top:408.40px;width:93.60px;height:17.40px;background:#8c95d6;"></div>
<div class="r" style="left:123.10px;top:408.40px;width:91.70px;height:17.40px;background:#b20404;"></div>
<div class="r" style="left:123.10px;top:408.40px;width:87.00px;height:17.40px;background:#8a8612;"></div>
<div class="r" style="left:123.10px;top:408.40px;width:84.70px;height:17.40px;background:#9a52b2;"></div>
<div class="r" style="left:123.10px;top:408.40px;width:80.40px;height:17.40px;background:#88138c;"></div>
<div class="r" style="left:123.10px;top:408.40px;width:65.60px;height:17.40px;background:#feeee2;"></div>
<div class="r" style="left:123.10px;top:408.40px;width:63.60px;height:17.40px;background:#6393d3;"></div>
<div class="r" style="left:123.10px;top:408.40px;width:18.90px;height:17.40px;background:#050505;"></div>
<div class="r" style="left:123.10px;top:408.40px;width:5.10px;height:17.40px;background:#f29b9b;"></div>
<div class="r" style="left:123.10px;top:431.60px;width:149.70px;height:17.40px;background:#abd6aa;"></div>
<div class="r" style="left:123.10px;top:431.60px;width:140.00px;height:17.40px;background:#2eb57a;"></div>
<div class="r" style="left:123.10px;top:431.60px;width:132.30px;height:17.40px;background:#11704a;"></div>
<div class="r" style="left:123.10px;top:431.60px;width:122.70px;height:17.40px;background:#f1600f;"></div>
<div class="r" style="left:123.10px;top:431.60px;width:108.80px;height:17.40px;background:#2f1f8a;"></div>
<div class="r" style="left:123.10px;top:431.60px;width:84.80px;height:17.40px;background:#8c95d6;"></div>
<div class="r" style="left:123.10px;top:431.60px;width:83.40px;height:17.40px;background:#b20404;"></div>
<div class="r" style="left:123.10px;top:431.60px;width:77.10px;height:17.40px;background:#8a8612;"></div>
<div class="r" style="left:123.10px;top:431.60px;width:71.90px;height:17.40px;background:#9a52b2;"></div>
<div class="r" style="left:123.10px;top:431.60px;width:63.60px;height:17.40px;background:#88138c;"></div>
<div class="r" style="left:123.10px;top:431.60px;width:57.90px;height:17.40px;background:#feeee2;"></div>
<div class="r" style="left:123.10px;top:431.60px;width:53.80px;height:17.40px;background:#6393d3;"></div>
<div class="r" style="left:123.10px;top:431.60px;width:17.40px;height:17.40px;background:#050505;"></div>
<div class="r" style="left:123.10px;top:431.60px;width:8.70px;height:17.40px;background:#f29b9b;"></div>
<div class="r" style="left:293.50px;top:355.80px;width:151.10px;height:16.80px;background:#abd6aa;"></div>
<div class="r" style="left:293.50px;top:355.80px;width:144.20px;height:16.80px;background:#2eb57a;"></div>
<div class="r" style="left:293.50px;top:355.80px;width:133.90px;height:16.80px;background:#11704a;"></div>
<div class="r" style="left:293.50px;top:355.80px;width:118.20px;height:16.80px;background:#f1600f;"></div>
<div class="r" style="left:293.50px;top:355.80px;width:98.70px;height:16.80px;background:#2f1f8a;"></div>
<div class="r" style="left:293.50px;top:355.80px;width:81.90px;height:16.80px;background:#f6b985;"></div>
<div class="r" style="left:293.50px;top:355.80px;width:69.80px;height:16.80px;background:#8c95d6;"></div>
<div class="r" style="left:293.50px;top:355.80px;width:55.30px;height:16.80px;background:#b20404;"></div>
<div class="r" style="left:293.50px;top:355.80px;width:48.70px;height:16.80px;background:#8a8612;"></div>
<div class="r" style="left:293.50px;top:355.80px;width:44.60px;height:16.80px;background:#9a52b2;"></div>
<div class="r" style="left:293.50px;top:355.80px;width:34.30px;height:16.80px;background:#88138c;"></div>
<div class="r" style="left:293.50px;top:355.80px;width:30.70px;height:16.80px;background:#feeee2;"></div>
<div class="r" style="left:293.50px;top:355.80px;width:26.60px;height:16.80px;background:#6393d3;"></div>
<div class="r" style="left:293.50px;top:355.80px;width:10.70px;height:16.80px;background:#050505;"></div>
<div class="r" style="left:293.50px;top:355.80px;width:5.70px;height:16.80px;background:#f29b9b;"></div>
<div class="r" style="left:293.50px;top:385.50px;width:151.10px;height:17.40px;background:#abd6aa;"></div>
<div class="r" style="left:293.50px;top:385.50px;width:148.50px;height:17.40px;background:#11704a;"></div>
<div class="r" style="left:293.50px;top:385.50px;width:146.00px;height:17.40px;background:#f1600f;"></div>
<div class="r" style="left:293.50px;top:385.50px;width:144.20px;height:17.40px;background:#2f1f8a;"></div>
<div class="r" style="left:293.50px;top:385.50px;width:142.50px;height:17.40px;background:#f6b985;"></div>
<div class="r" style="left:293.50px;top:385.50px;width:98.70px;height:17.40px;background:#8c95d6;"></div>
<div class="r" style="left:293.50px;top:385.50px;width:46.10px;height:17.40px;background:#b20404;"></div>
<div class="r" style="left:293.50px;top:385.50px;width:42.30px;height:17.40px;background:#8a8612;"></div>
<div class="r" style="left:293.50px;top:385.50px;width:32.70px;height:17.40px;background:#9a52b2;"></div>
<div class="r" style="left:293.50px;top:385.50px;width:5.70px;height:17.40px;background:#6393d3;"></div>
<div class="r" style="left:293.50px;top:385.50px;width:3.50px;height:17.40px;background:#050505;"></div>
<div class="r" style="left:293.50px;top:385.50px;width:1.50px;height:17.40px;background:#f29b9b;"></div>
<div class="r" style="left:293.50px;top:408.40px;width:151.10px;height:17.40px;background:#abd6aa;"></div>
<div class="r" style="left:293.50px;top:408.40px;width:141.40px;height:17.40px;background:#2eb57a;"></div>
<div class="r" style="left:293.50px;top:408.40px;width:128.80px;height:17.40px;background:#11704a;"></div>
<div class="r" style="left:293.50px;top:408.40px;width:93.40px;height:17.40px;background:#f1600f;"></div>
<div class="r" style="left:293.50px;top:408.40px;width:74.70px;height:17.40px;background:#2f1f8a;"></div>
<div class="r" style="left:293.50px;top:408.40px;width:63.80px;height:17.40px;background:#b20404;"></div>
<div class="r" style="left:293.50px;top:408.40px;width:60.70px;height:17.40px;background:#8a8612;"></div>
<div class="r" style="left:293.50px;top:408.40px;width:57.70px;height:17.40px;background:#9a52b2;"></div>
<div class="r" style="left:293.50px;top:408.40px;width:50.70px;height:17.40px;background:#88138c;"></div>
<div class="r" style="left:293.50px;top:408.40px;width:44.60px;height:17.40px;background:#feeee2;"></div>
<div class="r" style="left:293.50px;top:408.40px;width:37.30px;height:17.40px;background:#6393d3;"></div>
<div class="r" style="left:293.50px;top:408.40px;width:11.50px;height:17.40px;background:#050505;"></div>
<div class="r" style="left:293.50px;top:408.40px;width:6.60px;height:17.40px;background:#f29b9b;"></div>
<div class="r" style="left:293.50px;top:431.60px;width:151.10px;height:17.40px;background:#abd6aa;"></div>
<div class="r" style="left:293.50px;top:431.60px;width:142.30px;height:17.40px;background:#2eb57a;"></div>
<div class="r" style="left:293.50px;top:431.60px;width:128.50px;height:17.40px;background:#11704a;"></div>
<div class="r" style="left:293.50px;top:431.60px;width:109.60px;height:17.40px;background:#f1600f;"></div>
<div class="r" style="left:293.50px;top:431.60px;width:83.40px;height:17.40px;background:#2f1f8a;"></div>
<div class="r" style="left:293.50px;top:431.60px;width:59.20px;height:17.40px;background:#8c95d6;"></div>
<div class="r" style="left:293.50px;top:431.60px;width:58.40px;height:17.40px;background:#b20404;"></div>
<div class="r" style="left:293.50px;top:431.60px;width:50.70px;height:17.40px;background:#8a8612;"></div>
<div class="r" style="left:293.50px;top:431.60px;width:48.70px;height:17.40px;background:#9a52b2;"></div>
<div class="r" style="left:293.50px;top:431.60px;width:43.80px;height:17.40px;background:#88138c;"></div>
<div class="r" style="left:293.50px;top:431.60px;width:39.50px;height:17.40px;background:#feeee2;"></div>
<div class="r" style="left:293.50px;top:431.60px;width:33.80px;height:17.40px;background:#6393d3;"></div>
<div class="r" style="left:293.50px;top:431.60px;width:13.80px;height:17.40px;background:#050505;"></div>
<div class="r" style="left:293.50px;top:431.60px;width:7.20px;height:17.40px;background:#f29b9b;"></div>
<div class="t" style="left:124.40px;top:350.00px;font-size:6.50px;color:#222;-webkit-text-stroke:0.17px #222;">1718 cells</div>
<div class="t" style="left:124.40px;top:379.00px;font-size:6.50px;color:#222;-webkit-text-stroke:0.17px #222;">403 cells</div>
<div class="t" style="left:124.40px;top:402.00px;font-size:6.50px;color:#222;-webkit-text-stroke:0.17px #222;">182 cells</div>
<div class="t" style="left:124.40px;top:426.00px;font-size:6.50px;color:#222;-webkit-text-stroke:0.17px #222;">1128 cells</div>
<div class="t" style="left:296.30px;top:350.00px;font-size:6.50px;color:#222;-webkit-text-stroke:0.17px #222;">1039 cells</div>
<div class="t" style="left:296.30px;top:380.00px;font-size:6.50px;color:#222;-webkit-text-stroke:0.17px #222;">276 cells</div>
<div class="t" style="left:296.30px;top:403.00px;font-size:6.50px;color:#222;-webkit-text-stroke:0.17px #222;">89 cells</div>
<div class="t" style="left:296.30px;top:427.00px;font-size:6.50px;color:#222;-webkit-text-stroke:0.17px #222;">674 cells</div>
<div class="t" style="left:88.10px;top:357.00px;font-size:9.20px;color:#222;-webkit-text-stroke:0.24px #222;transform:scaleX(0.897);">All Cells</div>
<div class="t" style="left:69.20px;top:388.00px;font-size:9.20px;color:#222;-webkit-text-stroke:0.24px #222;transform:scaleX(0.898);">No Mutations</div>
<div class="t" style="left:99.30px;top:414.00px;font-size:9.20px;color:#222;-webkit-text-stroke:0.24px #222;font-style:italic;transform:scaleX(0.827);">TET2</div>
<div class="t" style="left:72.70px;top:435.00px;font-size:9.20px;color:#222;-webkit-text-stroke:0.24px #222;font-style:italic;transform:scaleX(0.893);">NRAS/TET2</div>
<div class="r" style="left:121.50px;top:455.35px;width:152.30px;height:1.30px;background:#2a2a2a;"></div>
<div class="r" style="left:121.05px;top:456.00px;width:0.90px;height:2.20px;background:#222;"></div>
<div class="t" style="left:119.72px;top:463.00px;font-size:6.40px;color:#333;-webkit-text-stroke:0.17px #333;">0</div>
<div class="r" style="left:195.85px;top:456.00px;width:0.90px;height:2.20px;background:#222;"></div>
<div class="t" style="left:191.85px;top:463.00px;font-size:6.40px;color:#333;-webkit-text-stroke:0.17px #333;">0.5</div>
<div class="r" style="left:273.35px;top:456.00px;width:0.90px;height:2.20px;background:#222;"></div>
<div class="t" style="left:269.35px;top:463.00px;font-size:6.40px;color:#333;-webkit-text-stroke:0.17px #333;">1.0</div>
<div class="r" style="left:293.30px;top:455.35px;width:152.70px;height:1.30px;background:#2a2a2a;"></div>
<div class="r" style="left:292.85px;top:456.00px;width:0.90px;height:2.20px;background:#222;"></div>
<div class="t" style="left:291.52px;top:462.00px;font-size:6.40px;color:#333;-webkit-text-stroke:0.17px #333;">0</div>
<div class="r" style="left:367.75px;top:456.00px;width:0.90px;height:2.20px;background:#222;"></div>
<div class="t" style="left:363.75px;top:462.00px;font-size:6.40px;color:#333;-webkit-text-stroke:0.17px #333;">0.5</div>
<div class="r" style="left:445.55px;top:456.00px;width:0.90px;height:2.20px;background:#222;"></div>
<div class="t" style="left:441.55px;top:462.00px;font-size:6.40px;color:#333;-webkit-text-stroke:0.17px #333;">1.0</div>
<div class="r" style="left:27.30px;top:476.40px;width:58.70px;height:13.10px;background:#fcf2d4;"></div>
<div class="t" style="left:31.60px;top:480.00px;font-size:7.80px;color:#222;-webkit-text-stroke:0.20px #222;transform:scaleX(0.788);">Cell Types Legend</div>
<div class="r" style="left:95.50px;top:476.40px;width:106.80px;height:13.10px;background:#fcf2d4;"></div>
<div class="t" style="left:98.80px;top:480.00px;font-size:7.80px;color:#222;-webkit-text-stroke:0.20px #222;transform:scaleX(0.790);">Cell sub-types stratified by Genotype</div>
<div class="r" style="left:26.50px;top:497.90px;width:5.10px;height:2.40px;background:#a4b89c;"></div>
<div class="t" style="left:34.20px;top:498.00px;font-size:4.60px;color:#737a8c;">C9</div>
<div class="t" style="left:54.50px;top:498.00px;font-size:4.50px;color:#3a3a3a;transform:scaleX(0.930);">Mono</div>
<div class="r" style="left:26.50px;top:505.30px;width:5.10px;height:2.40px;background:#1a8a58;"></div>
<div class="t" style="left:34.20px;top:505.00px;font-size:4.60px;color:#737a8c;">C7</div>
<div class="r" style="left:53.20px;top:502.45px;width:30.30px;height:0.70px;background:#b4b8c4;"></div>
<div class="t" style="left:54.50px;top:505.00px;font-size:4.50px;color:#3a3a3a;transform:scaleX(0.930);">Mono</div>
<div class="r" style="left:26.50px;top:512.70px;width:5.10px;height:2.40px;background:#00402a;"></div>
<div class="t" style="left:34.20px;top:512.00px;font-size:4.60px;color:#737a8c;">C4</div>
<div class="r" style="left:53.20px;top:509.85px;width:30.30px;height:0.70px;background:#b4b8c4;"></div>
<div class="t" style="left:54.50px;top:512.00px;font-size:4.50px;color:#3a3a3a;transform:scaleX(0.930);">Mono</div>
<div class="r" style="left:26.50px;top:520.10px;width:5.10px;height:2.40px;background:#c85a2c;"></div>
<div class="t" style="left:34.20px;top:520.00px;font-size:4.60px;color:#737a8c;">C3</div>
<div class="r" style="left:53.20px;top:517.25px;width:30.30px;height:0.70px;background:#b4b8c4;"></div>
<div class="t" style="left:54.50px;top:520.00px;font-size:4.50px;color:#3a3a3a;transform:scaleX(0.866);">Immature Mono</div>
<div class="r" style="left:26.50px;top:527.50px;width:5.10px;height:2.40px;background:#1c0c58;"></div>
<div class="t" style="left:34.20px;top:527.00px;font-size:4.60px;color:#737a8c;">C2</div>
<div class="r" style="left:53.20px;top:524.65px;width:30.30px;height:0.70px;background:#b4b8c4;"></div>
<div class="t" style="left:54.50px;top:527.00px;font-size:4.50px;color:#3a3a3a;transform:scaleX(0.866);">Immature Mono</div>
<div class="r" style="left:26.50px;top:534.90px;width:5.10px;height:2.40px;background:#dcb084;"></div>
<div class="t" style="left:34.20px;top:535.00px;font-size:4.60px;color:#737a8c;">C6</div>
<div class="r" style="left:53.20px;top:532.05px;width:30.30px;height:0.70px;background:#b4b8c4;"></div>
<div class="t" style="left:54.50px;top:535.00px;font-size:4.50px;color:#3a3a3a;transform:scaleX(0.930);">T cell</div>
<div class="r" style="left:26.50px;top:542.30px;width:5.10px;height:2.40px;background:#7a7ab4;"></div>
<div class="t" style="left:34.20px;top:542.00px;font-size:4.60px;color:#737a8c;">C8</div>
<div class="r" style="left:53.20px;top:539.45px;width:30.30px;height:0.70px;background:#b4b8c4;"></div>
<div class="t" style="left:54.50px;top:542.00px;font-size:4.50px;color:#3a3a3a;transform:scaleX(0.930);">T cell</div>
<div class="r" style="left:26.50px;top:549.70px;width:5.10px;height:2.40px;background:#780010;"></div>
<div class="t" style="left:34.20px;top:549.00px;font-size:4.60px;color:#737a8c;">C12</div>
<div class="r" style="left:53.20px;top:546.85px;width:30.30px;height:0.70px;background:#b4b8c4;"></div>
<div class="t" style="left:54.50px;top:549.00px;font-size:4.50px;color:#3a3a3a;transform:scaleX(0.930);">B cell</div>
<div class="r" style="left:26.50px;top:557.10px;width:5.10px;height:2.40px;background:#7c6020;"></div>
<div class="t" style="left:34.20px;top:557.00px;font-size:4.60px;color:#737a8c;">C13</div>
<div class="r" style="left:53.20px;top:554.25px;width:30.30px;height:0.70px;background:#b4b8c4;"></div>
<div class="t" style="left:54.50px;top:557.00px;font-size:4.50px;color:#3a3a3a;transform:scaleX(0.930);">NK cell</div>
<div class="r" style="left:26.50px;top:564.50px;width:5.10px;height:2.40px;background:#7a4a9c;"></div>
<div class="t" style="left:34.20px;top:564.00px;font-size:4.60px;color:#737a8c;">C5</div>
<div class="r" style="left:53.20px;top:561.65px;width:30.30px;height:0.70px;background:#b4b8c4;"></div>
<div class="t" style="left:54.50px;top:564.00px;font-size:4.50px;color:#3a3a3a;transform:scaleX(0.930);">NK cell</div>
<div class="r" style="left:26.50px;top:571.90px;width:5.10px;height:2.40px;background:#4e0c5c;"></div>
<div class="t" style="left:34.20px;top:572.00px;font-size:4.60px;color:#737a8c;">C14</div>
<div class="r" style="left:53.20px;top:569.05px;width:30.30px;height:0.70px;background:#b4b8c4;"></div>
<div class="t" style="left:54.50px;top:572.00px;font-size:4.50px;color:#3a3a3a;transform:scaleX(0.930);">pDC</div>
<div class="r" style="left:26.50px;top:579.30px;width:5.10px;height:2.40px;background:#f2dccb;"></div>
<div class="t" style="left:34.20px;top:579.00px;font-size:4.60px;color:#737a8c;">C15</div>
<div class="r" style="left:53.20px;top:576.45px;width:30.30px;height:0.70px;background:#b4b8c4;"></div>
<div class="t" style="left:54.50px;top:579.00px;font-size:4.50px;color:#3a3a3a;transform:scaleX(0.930);">pDC</div>
<div class="r" style="left:26.50px;top:586.70px;width:5.10px;height:2.40px;background:#5a78a8;"></div>
<div class="t" style="left:34.20px;top:586.00px;font-size:4.60px;color:#737a8c;">C1</div>
<div class="r" style="left:53.20px;top:583.85px;width:30.30px;height:0.70px;background:#b4b8c4;"></div>
<div class="t" style="left:54.50px;top:586.00px;font-size:4.50px;color:#3a3a3a;transform:scaleX(0.930);">Blasts pDC</div>
<div class="r" style="left:26.50px;top:594.10px;width:5.10px;height:2.40px;background:#050505;"></div>
<div class="t" style="left:34.20px;top:594.00px;font-size:4.60px;color:#737a8c;">C11</div>
<div class="r" style="left:53.20px;top:591.25px;width:30.30px;height:0.70px;background:#b4b8c4;"></div>
<div class="t" style="left:54.50px;top:594.00px;font-size:4.50px;color:#3a3a3a;transform:scaleX(0.930);">Blasts pDC</div>
<div class="r" style="left:26.50px;top:601.50px;width:5.10px;height:2.40px;background:#d8909a;"></div>
<div class="t" style="left:34.20px;top:601.00px;font-size:4.60px;color:#737a8c;">C10</div>
<div class="r" style="left:53.20px;top:598.65px;width:30.30px;height:0.70px;background:#b4b8c4;"></div>
<div class="t" style="left:54.50px;top:601.00px;font-size:4.50px;color:#3a3a3a;transform:scaleX(0.930);">Blasts pDC</div>
<div class="r" style="left:53.20px;top:495.40px;width:30.30px;height:111.00px;background:transparent;box-shadow:inset 0 0 0 0.7px #9098b0;"></div>
<div class="r" style="left:107.00px;top:509.20px;width:1.00px;height:101.20px;background:#222;"></div>
<div class="r" style="left:107.00px;top:607.15px;width:94.80px;height:0.90px;background:#222;"></div>
<div class="r" style="left:107.05px;top:607.60px;width:0.90px;height:2.80px;background:#222;"></div>
<div class="r" style="left:153.95px;top:607.60px;width:0.90px;height:2.80px;background:#222;"></div>
<div class="r" style="left:200.85px;top:607.60px;width:0.90px;height:2.80px;background:#222;"></div>
<div class="r" style="left:108.10px;top:512.00px;width:93.20px;height:3.85px;background:#a50000;"></div>
<div class="r" style="left:108.10px;top:512.00px;width:4.80px;height:3.85px;background:#f07f7f;"></div>
<div class="r" style="left:104.50px;top:513.47px;width:3.00px;height:0.90px;background:#222;"></div>
<div class="t" style="left:89.09px;top:511.00px;font-size:6.60px;color:#2a2a2a;-webkit-text-stroke:0.17px #2a2a2a;">C15</div>
<div class="r" style="left:108.10px;top:518.45px;width:93.20px;height:3.85px;background:#a50000;"></div>
<div class="r" style="left:108.10px;top:518.45px;width:31.10px;height:3.85px;background:#f07f7f;"></div>
<div class="r" style="left:104.50px;top:519.92px;width:3.00px;height:0.90px;background:#222;"></div>
<div class="t" style="left:89.09px;top:518.00px;font-size:6.60px;color:#2a2a2a;-webkit-text-stroke:0.17px #2a2a2a;">C14</div>
<div class="r" style="left:108.10px;top:524.90px;width:93.20px;height:3.85px;background:#a50000;"></div>
<div class="r" style="left:108.10px;top:524.90px;width:52.70px;height:3.85px;background:#f07f7f;"></div>
<div class="r" style="left:108.10px;top:524.90px;width:47.90px;height:3.85px;background:#6393d3;"></div>
<div class="r" style="left:104.50px;top:526.37px;width:3.00px;height:0.90px;background:#222;"></div>
<div class="t" style="left:89.09px;top:524.00px;font-size:6.60px;color:#2a2a2a;-webkit-text-stroke:0.17px #2a2a2a;">C13</div>
<div class="r" style="left:108.10px;top:531.35px;width:93.20px;height:3.85px;background:#a50000;"></div>
<div class="r" style="left:108.10px;top:531.35px;width:15.60px;height:3.85px;background:#f07f7f;"></div>
<div class="r" style="left:108.10px;top:531.35px;width:6.90px;height:3.85px;background:#6393d3;"></div>
<div class="r" style="left:104.50px;top:532.82px;width:3.00px;height:0.90px;background:#222;"></div>
<div class="t" style="left:89.09px;top:531.00px;font-size:6.60px;color:#2a2a2a;-webkit-text-stroke:0.17px #2a2a2a;">C12</div>
<div class="r" style="left:108.10px;top:537.80px;width:93.20px;height:3.85px;background:#a50000;"></div>
<div class="r" style="left:108.10px;top:537.80px;width:24.00px;height:3.85px;background:#f07f7f;"></div>
<div class="r" style="left:108.10px;top:537.80px;width:3.40px;height:3.85px;background:#6393d3;"></div>
<div class="r" style="left:104.50px;top:539.27px;width:3.00px;height:0.90px;background:#222;"></div>
<div class="t" style="left:89.58px;top:537.00px;font-size:6.60px;color:#2a2a2a;-webkit-text-stroke:0.17px #2a2a2a;">C11</div>
<div class="r" style="left:108.10px;top:544.25px;width:93.20px;height:3.85px;background:#a50000;"></div>
<div class="r" style="left:108.10px;top:544.25px;width:31.10px;height:3.85px;background:#f07f7f;"></div>
<div class="r" style="left:108.10px;top:544.25px;width:24.80px;height:3.85px;background:#6393d3;"></div>
<div class="r" style="left:104.50px;top:545.72px;width:3.00px;height:0.90px;background:#222;"></div>
<div class="t" style="left:89.09px;top:543.00px;font-size:6.60px;color:#2a2a2a;-webkit-text-stroke:0.17px #2a2a2a;">C10</div>
<div class="r" style="left:108.10px;top:550.70px;width:93.20px;height:3.85px;background:#a50000;"></div>
<div class="r" style="left:108.10px;top:550.70px;width:12.70px;height:3.85px;background:#f07f7f;"></div>
<div class="r" style="left:104.50px;top:552.17px;width:3.00px;height:0.90px;background:#222;"></div>
<div class="t" style="left:92.76px;top:550.00px;font-size:6.60px;color:#2a2a2a;-webkit-text-stroke:0.17px #2a2a2a;">C9</div>
<div class="r" style="left:108.10px;top:557.15px;width:93.20px;height:3.85px;background:#a50000;"></div>
<div class="r" style="left:108.10px;top:557.15px;width:83.80px;height:3.85px;background:#6393d3;"></div>
<div class="r" style="left:104.50px;top:558.62px;width:3.00px;height:0.90px;background:#222;"></div>
<div class="t" style="left:92.76px;top:556.00px;font-size:6.60px;color:#2a2a2a;-webkit-text-stroke:0.17px #2a2a2a;">C8</div>
<div class="r" style="left:108.10px;top:563.60px;width:93.20px;height:3.85px;background:#a50000;"></div>
<div class="r" style="left:108.10px;top:563.60px;width:19.80px;height:3.85px;background:#f07f7f;"></div>
<div class="r" style="left:108.10px;top:563.60px;width:3.40px;height:3.85px;background:#6393d3;"></div>
<div class="r" style="left:104.50px;top:565.07px;width:3.00px;height:0.90px;background:#222;"></div>
<div class="t" style="left:92.76px;top:563.00px;font-size:6.60px;color:#2a2a2a;-webkit-text-stroke:0.17px #2a2a2a;">C7</div>
<div class="r" style="left:108.10px;top:570.05px;width:93.20px;height:3.85px;background:#a50000;"></div>
<div class="r" style="left:108.10px;top:570.05px;width:91.90px;height:3.85px;background:#6393d3;"></div>
<div class="r" style="left:104.50px;top:571.52px;width:3.00px;height:0.90px;background:#222;"></div>
<div class="t" style="left:92.76px;top:569.00px;font-size:6.60px;color:#2a2a2a;-webkit-text-stroke:0.17px #2a2a2a;">C6</div>
<div class="r" style="left:108.10px;top:576.50px;width:93.20px;height:3.85px;background:#a50000;"></div>
<div class="r" style="left:108.10px;top:576.50px;width:54.40px;height:3.85px;background:#f07f7f;"></div>
<div class="r" style="left:108.10px;top:576.50px;width:51.90px;height:3.85px;background:#6393d3;"></div>
<div class="r" style="left:104.50px;top:577.97px;width:3.00px;height:0.90px;background:#222;"></div>
<div class="t" style="left:92.76px;top:576.00px;font-size:6.60px;color:#2a2a2a;-webkit-text-stroke:0.17px #2a2a2a;">C5</div>
<div class="r" style="left:108.10px;top:582.95px;width:93.20px;height:3.85px;background:#a50000;"></div>
<div class="r" style="left:108.10px;top:582.95px;width:15.60px;height:3.85px;background:#f07f7f;"></div>
<div class="r" style="left:108.10px;top:582.95px;width:3.40px;height:3.85px;background:#6393d3;"></div>
<div class="r" style="left:104.50px;top:584.42px;width:3.00px;height:0.90px;background:#222;"></div>
<div class="t" style="left:92.76px;top:582.00px;font-size:6.60px;color:#2a2a2a;-webkit-text-stroke:0.17px #2a2a2a;">C4</div>
<div class="r" style="left:108.10px;top:589.40px;width:93.20px;height:3.85px;background:#a50000;"></div>
<div class="r" style="left:108.10px;top:589.40px;width:10.40px;height:3.85px;background:#f07f7f;"></div>
<div class="r" style="left:104.50px;top:590.87px;width:3.00px;height:0.90px;background:#222;"></div>
<div class="t" style="left:92.76px;top:589.00px;font-size:6.60px;color:#2a2a2a;-webkit-text-stroke:0.17px #2a2a2a;">C3</div>
<div class="r" style="left:108.10px;top:595.85px;width:93.20px;height:3.85px;background:#a50000;"></div>
<div class="r" style="left:108.10px;top:595.85px;width:10.40px;height:3.85px;background:#f07f7f;"></div>
<div class="r" style="left:104.50px;top:597.32px;width:3.00px;height:0.90px;background:#222;"></div>
<div class="t" style="left:92.76px;top:595.00px;font-size:6.60px;color:#2a2a2a;-webkit-text-stroke:0.17px #2a2a2a;">C2</div>
<div class="r" style="left:108.10px;top:602.30px;width:93.20px;height:3.85px;background:#a50000;"></div>
<div class="r" style="left:108.10px;top:602.30px;width:16.70px;height:3.85px;background:#f07f7f;"></div>
<div class="r" style="left:108.10px;top:602.30px;width:2.30px;height:3.85px;background:#6393d3;"></div>
<div class="r" style="left:104.50px;top:603.77px;width:3.00px;height:0.90px;background:#222;"></div>
<div class="t" style="left:92.76px;top:601.00px;font-size:6.60px;color:#2a2a2a;-webkit-text-stroke:0.17px #2a2a2a;">C1</div>
<div class="r" style="left:298.60px;top:510.20px;width:1.00px;height:101.60px;background:#222;"></div>
<div class="r" style="left:298.60px;top:608.95px;width:94.60px;height:0.90px;background:#222;"></div>
<div class="r" style="left:298.65px;top:609.40px;width:0.90px;height:2.40px;background:#222;"></div>
<div class="r" style="left:345.45px;top:609.40px;width:0.90px;height:2.40px;background:#222;"></div>
<div class="r" style="left:392.25px;top:609.40px;width:0.90px;height:2.40px;background:#222;"></div>
<div class="r" style="left:300.20px;top:513.20px;width:92.50px;height:3.85px;background:#a50000;"></div>
<div class="r" style="left:300.20px;top:513.20px;width:13.90px;height:3.85px;background:#f07f7f;"></div>
<div class="r" style="left:300.20px;top:513.20px;width:2.10px;height:3.85px;background:#6393d3;"></div>
<div class="r" style="left:296.10px;top:514.67px;width:3.00px;height:0.90px;background:#222;"></div>
<div class="t" style="left:280.99px;top:512.00px;font-size:6.60px;color:#2a2a2a;-webkit-text-stroke:0.17px #2a2a2a;">C15</div>
<div class="r" style="left:300.20px;top:519.65px;width:92.50px;height:3.85px;background:#a50000;"></div>
<div class="r" style="left:300.20px;top:519.65px;width:18.00px;height:3.85px;background:#f07f7f;"></div>
<div class="r" style="left:300.20px;top:519.65px;width:2.10px;height:3.85px;background:#6393d3;"></div>
<div class="r" style="left:296.10px;top:521.12px;width:3.00px;height:0.90px;background:#222;"></div>
<div class="t" style="left:280.99px;top:519.00px;font-size:6.60px;color:#2a2a2a;-webkit-text-stroke:0.17px #2a2a2a;">C14</div>
<div class="r" style="left:300.20px;top:526.10px;width:92.50px;height:3.85px;background:#a50000;"></div>
<div class="r" style="left:300.20px;top:526.10px;width:64.50px;height:3.85px;background:#f07f7f;"></div>
<div class="r" style="left:300.20px;top:526.10px;width:57.40px;height:3.85px;background:#6393d3;"></div>
<div class="r" style="left:296.10px;top:527.57px;width:3.00px;height:0.90px;background:#222;"></div>
<div class="t" style="left:280.99px;top:525.00px;font-size:6.60px;color:#2a2a2a;-webkit-text-stroke:0.17px #2a2a2a;">C13</div>
<div class="r" style="left:300.20px;top:532.55px;width:92.50px;height:3.85px;background:#a50000;"></div>
<div class="r" style="left:300.20px;top:532.55px;width:18.80px;height:3.85px;background:#f07f7f;"></div>
<div class="r" style="left:300.20px;top:532.55px;width:14.20px;height:3.85px;background:#6393d3;"></div>
<div class="r" style="left:296.10px;top:534.02px;width:3.00px;height:0.90px;background:#222;"></div>
<div class="t" style="left:280.99px;top:532.00px;font-size:6.60px;color:#2a2a2a;-webkit-text-stroke:0.17px #2a2a2a;">C12</div>
<div class="r" style="left:300.20px;top:539.00px;width:92.50px;height:3.85px;background:#a50000;"></div>
<div class="r" style="left:300.20px;top:539.00px;width:16.00px;height:3.85px;background:#f07f7f;"></div>
<div class="r" style="left:300.20px;top:539.00px;width:7.30px;height:3.85px;background:#6393d3;"></div>
<div class="r" style="left:296.10px;top:540.47px;width:3.00px;height:0.90px;background:#222;"></div>
<div class="t" style="left:281.48px;top:538.00px;font-size:6.60px;color:#2a2a2a;-webkit-text-stroke:0.17px #2a2a2a;">C11</div>
<div class="r" style="left:300.20px;top:545.45px;width:92.50px;height:3.85px;background:#a50000;"></div>
<div class="r" style="left:300.20px;top:545.45px;width:16.00px;height:3.85px;background:#f07f7f;"></div>
<div class="r" style="left:300.20px;top:545.45px;width:7.30px;height:3.85px;background:#6393d3;"></div>
<div class="r" style="left:296.10px;top:546.92px;width:3.00px;height:0.90px;background:#222;"></div>
<div class="t" style="left:280.99px;top:545.00px;font-size:6.60px;color:#2a2a2a;-webkit-text-stroke:0.17px #2a2a2a;">C10</div>
<div class="r" style="left:300.20px;top:551.90px;width:92.50px;height:3.85px;background:#a50000;"></div>
<div class="r" style="left:300.20px;top:551.90px;width:19.60px;height:3.85px;background:#f07f7f;"></div>
<div class="r" style="left:300.20px;top:551.90px;width:7.80px;height:3.85px;background:#6393d3;"></div>
<div class="r" style="left:296.10px;top:553.38px;width:3.00px;height:0.90px;background:#222;"></div>
<div class="t" style="left:284.66px;top:551.00px;font-size:6.60px;color:#2a2a2a;-webkit-text-stroke:0.17px #2a2a2a;">C9</div>
<div class="r" style="left:300.20px;top:558.35px;width:92.50px;height:3.85px;background:#a50000;"></div>
<div class="r" style="left:300.20px;top:558.35px;width:88.20px;height:3.85px;background:#6393d3;"></div>
<div class="r" style="left:296.10px;top:559.82px;width:3.00px;height:0.90px;background:#222;"></div>
<div class="t" style="left:284.66px;top:558.00px;font-size:6.60px;color:#2a2a2a;-webkit-text-stroke:0.17px #2a2a2a;">C8</div>
<div class="r" style="left:300.20px;top:564.80px;width:92.50px;height:3.85px;background:#a50000;"></div>
<div class="r" style="left:300.20px;top:564.80px;width:9.00px;height:3.85px;background:#f07f7f;"></div>
<div class="r" style="left:296.10px;top:566.27px;width:3.00px;height:0.90px;background:#222;"></div>
<div class="t" style="left:284.66px;top:564.00px;font-size:6.60px;color:#2a2a2a;-webkit-text-stroke:0.17px #2a2a2a;">C7</div>
<div class="r" style="left:300.20px;top:571.25px;width:92.50px;height:3.85px;background:#6393d3;"></div>
<div class="r" style="left:296.10px;top:572.72px;width:3.00px;height:0.90px;background:#222;"></div>
<div class="t" style="left:284.66px;top:570.00px;font-size:6.60px;color:#2a2a2a;-webkit-text-stroke:0.17px #2a2a2a;">C6</div>
<div class="r" style="left:300.20px;top:577.70px;width:92.50px;height:3.85px;background:#a50000;"></div>
<div class="r" style="left:300.20px;top:577.70px;width:69.80px;height:3.85px;background:#f07f7f;"></div>
<div class="r" style="left:300.20px;top:577.70px;width:64.50px;height:3.85px;background:#6393d3;"></div>
<div class="r" style="left:296.10px;top:579.17px;width:3.00px;height:0.90px;background:#222;"></div>
<div class="t" style="left:284.66px;top:577.00px;font-size:6.60px;color:#2a2a2a;-webkit-text-stroke:0.17px #2a2a2a;">C5</div>
<div class="r" style="left:300.20px;top:584.15px;width:92.50px;height:3.85px;background:#a50000;"></div>
<div class="r" style="left:300.20px;top:584.15px;width:19.60px;height:3.85px;background:#f07f7f;"></div>
<div class="r" style="left:300.20px;top:584.15px;width:1.80px;height:3.85px;background:#6393d3;"></div>
<div class="r" style="left:296.10px;top:585.62px;width:3.00px;height:0.90px;background:#222;"></div>
<div class="t" style="left:284.66px;top:583.00px;font-size:6.60px;color:#2a2a2a;-webkit-text-stroke:0.17px #2a2a2a;">C4</div>
<div class="r" style="left:300.20px;top:590.60px;width:92.50px;height:3.85px;background:#a50000;"></div>
<div class="r" style="left:300.20px;top:590.60px;width:10.20px;height:3.85px;background:#f07f7f;"></div>
<div class="r" style="left:300.20px;top:590.60px;width:1.80px;height:3.85px;background:#6393d3;"></div>
<div class="r" style="left:296.10px;top:592.07px;width:3.00px;height:0.90px;background:#222;"></div>
<div class="t" style="left:284.66px;top:590.00px;font-size:6.60px;color:#2a2a2a;-webkit-text-stroke:0.17px #2a2a2a;">C3</div>
<div class="r" style="left:300.20px;top:597.05px;width:92.50px;height:3.85px;background:#a50000;"></div>
<div class="r" style="left:300.20px;top:597.05px;width:6.50px;height:3.85px;background:#f07f7f;"></div>
<div class="r" style="left:300.20px;top:597.05px;width:1.80px;height:3.85px;background:#6393d3;"></div>
<div class="r" style="left:296.10px;top:598.52px;width:3.00px;height:0.90px;background:#222;"></div>
<div class="t" style="left:284.66px;top:596.00px;font-size:6.60px;color:#2a2a2a;-webkit-text-stroke:0.17px #2a2a2a;">C2</div>
<div class="r" style="left:300.20px;top:603.50px;width:92.50px;height:3.85px;background:#a50000;"></div>
<div class="r" style="left:300.20px;top:603.50px;width:14.80px;height:3.85px;background:#f07f7f;"></div>
<div class="r" style="left:300.20px;top:603.50px;width:1.80px;height:3.85px;background:#6393d3;"></div>
<div class="r" style="left:296.10px;top:604.97px;width:3.00px;height:0.90px;background:#222;"></div>
<div class="t" style="left:284.66px;top:603.00px;font-size:6.60px;color:#2a2a2a;-webkit-text-stroke:0.17px #2a2a2a;">C1</div>
<div class="r" style="left:205.00px;top:508.90px;width:1.00px;height:102.00px;background:#222;"></div>
<div class="r" style="left:205.00px;top:508.90px;width:67.60px;height:1.00px;background:#222;"></div>
<div class="r" style="left:205.05px;top:507.20px;width:0.90px;height:2.20px;background:#222;"></div>
<div class="t" style="left:203.72px;top:497.00px;font-size:6.40px;color:#333;-webkit-text-stroke:0.17px #333;">0</div>
<div class="r" style="left:218.31px;top:507.20px;width:0.90px;height:2.20px;background:#222;"></div>
<div class="t" style="left:216.98px;top:497.00px;font-size:6.40px;color:#333;-webkit-text-stroke:0.17px #333;">5</div>
<div class="r" style="left:231.57px;top:507.20px;width:0.90px;height:2.20px;background:#222;"></div>
<div class="t" style="left:228.46px;top:497.00px;font-size:6.40px;color:#333;-webkit-text-stroke:0.17px #333;">10</div>
<div class="r" style="left:244.83px;top:507.20px;width:0.90px;height:2.20px;background:#222;"></div>
<div class="t" style="left:241.72px;top:497.00px;font-size:6.40px;color:#333;-webkit-text-stroke:0.17px #333;">15</div>
<div class="r" style="left:258.09px;top:507.20px;width:0.90px;height:2.20px;background:#222;"></div>
<div class="t" style="left:254.98px;top:497.00px;font-size:6.40px;color:#333;-webkit-text-stroke:0.17px #333;">20</div>
<div class="r" style="left:271.35px;top:507.20px;width:0.90px;height:2.20px;background:#222;"></div>
<div class="t" style="left:268.24px;top:497.00px;font-size:6.40px;color:#333;-webkit-text-stroke:0.17px #333;">25</div>
<div class="r" style="left:206.00px;top:512.20px;width:4.90px;height:3.60px;background:#8a85cb;"></div>
<div class="r" style="left:203.00px;top:513.55px;width:2.50px;height:0.90px;background:#222;"></div>
<div class="t" style="left:214.10px;top:511.00px;font-size:6.60px;color:#2a2a2a;-webkit-text-stroke:0.17px #2a2a2a;">35</div>
<div class="r" style="left:206.00px;top:518.65px;width:8.61px;height:3.60px;background:#8a85cb;"></div>
<div class="r" style="left:203.00px;top:520.00px;width:2.50px;height:0.90px;background:#222;"></div>
<div class="t" style="left:217.81px;top:518.00px;font-size:6.60px;color:#2a2a2a;-webkit-text-stroke:0.17px #2a2a2a;">59</div>
<div class="r" style="left:206.00px;top:525.10px;width:12.00px;height:3.60px;background:#8a85cb;"></div>
<div class="r" style="left:203.00px;top:526.45px;width:2.50px;height:0.90px;background:#222;"></div>
<div class="t" style="left:221.20px;top:524.00px;font-size:6.60px;color:#2a2a2a;-webkit-text-stroke:0.17px #2a2a2a;">81</div>
<div class="r" style="left:206.00px;top:531.55px;width:9.38px;height:3.60px;background:#8a85cb;"></div>
<div class="r" style="left:203.00px;top:532.90px;width:2.50px;height:0.90px;background:#222;"></div>
<div class="t" style="left:218.58px;top:531.00px;font-size:6.60px;color:#2a2a2a;-webkit-text-stroke:0.17px #2a2a2a;">64</div>
<div class="r" style="left:206.00px;top:538.00px;width:12.93px;height:3.60px;background:#8a85cb;"></div>
<div class="r" style="left:203.00px;top:539.35px;width:2.50px;height:0.90px;background:#222;"></div>
<div class="t" style="left:222.13px;top:537.00px;font-size:6.60px;color:#2a2a2a;-webkit-text-stroke:0.17px #2a2a2a;">87</div>
<div class="r" style="left:206.00px;top:544.45px;width:15.40px;height:3.60px;background:#8a85cb;"></div>
<div class="r" style="left:203.00px;top:545.80px;width:2.50px;height:0.90px;background:#222;"></div>
<div class="t" style="left:224.60px;top:544.00px;font-size:6.60px;color:#2a2a2a;-webkit-text-stroke:0.17px #2a2a2a;">103</div>
<div class="r" style="left:206.00px;top:550.90px;width:12.93px;height:3.60px;background:#8a85cb;"></div>
<div class="r" style="left:203.00px;top:552.25px;width:2.50px;height:0.90px;background:#222;"></div>
<div class="t" style="left:222.13px;top:550.00px;font-size:6.60px;color:#2a2a2a;-webkit-text-stroke:0.17px #2a2a2a;">87</div>
<div class="r" style="left:206.00px;top:557.35px;width:15.25px;height:3.60px;background:#8a85cb;"></div>
<div class="r" style="left:203.00px;top:558.70px;width:2.50px;height:0.90px;background:#222;"></div>
<div class="t" style="left:224.45px;top:556.00px;font-size:6.60px;color:#2a2a2a;-webkit-text-stroke:0.17px #2a2a2a;">102</div>
<div class="r" style="left:206.00px;top:563.80px;width:10.46px;height:3.60px;background:#8a85cb;"></div>
<div class="r" style="left:203.00px;top:565.15px;width:2.50px;height:0.90px;background:#222;"></div>
<div class="t" style="left:219.66px;top:563.00px;font-size:6.60px;color:#2a2a2a;-webkit-text-stroke:0.17px #2a2a2a;">71</div>
<div class="r" style="left:206.00px;top:570.25px;width:18.49px;height:3.60px;background:#8a85cb;"></div>
<div class="r" style="left:203.00px;top:571.60px;width:2.50px;height:0.90px;background:#222;"></div>
<div class="t" style="left:227.69px;top:569.00px;font-size:6.60px;color:#2a2a2a;-webkit-text-stroke:0.17px #2a2a2a;">123</div>
<div class="r" style="left:206.00px;top:576.70px;width:23.74px;height:3.60px;background:#8a85cb;"></div>
<div class="r" style="left:203.00px;top:578.05px;width:2.50px;height:0.90px;background:#222;"></div>
<div class="t" style="left:232.94px;top:576.00px;font-size:6.60px;color:#2a2a2a;-webkit-text-stroke:0.17px #2a2a2a;">157</div>
<div class="r" style="left:206.00px;top:583.15px;width:12.78px;height:3.60px;background:#8a85cb;"></div>
<div class="r" style="left:203.00px;top:584.50px;width:2.50px;height:0.90px;background:#222;"></div>
<div class="t" style="left:221.98px;top:582.00px;font-size:6.60px;color:#2a2a2a;-webkit-text-stroke:0.17px #2a2a2a;">86</div>
<div class="r" style="left:206.00px;top:589.60px;width:17.56px;height:3.60px;background:#8a85cb;"></div>
<div class="r" style="left:203.00px;top:590.95px;width:2.50px;height:0.90px;background:#222;"></div>
<div class="t" style="left:226.76px;top:589.00px;font-size:6.60px;color:#2a2a2a;-webkit-text-stroke:0.17px #2a2a2a;">117</div>
<div class="r" style="left:206.00px;top:596.05px;width:31.30px;height:3.60px;background:#8a85cb;"></div>
<div class="r" style="left:203.00px;top:597.40px;width:2.50px;height:0.90px;background:#222;"></div>
<div class="t" style="left:240.50px;top:595.00px;font-size:6.60px;color:#2a2a2a;-webkit-text-stroke:0.17px #2a2a2a;">206</div>
<div class="r" style="left:206.00px;top:602.50px;width:51.98px;height:3.60px;background:#8a85cb;"></div>
<div class="r" style="left:203.00px;top:603.85px;width:2.50px;height:0.90px;background:#222;"></div>
<div class="t" style="left:261.18px;top:602.00px;font-size:6.60px;color:#2a2a2a;-webkit-text-stroke:0.17px #2a2a2a;">340</div>
<div class="r" style="left:396.40px;top:509.50px;width:1.00px;height:102.00px;background:#222;"></div>
<div class="r" style="left:396.40px;top:509.50px;width:67.85px;height:1.00px;background:#222;"></div>
<div class="r" style="left:396.45px;top:507.80px;width:0.90px;height:2.20px;background:#222;"></div>
<div class="t" style="left:395.12px;top:498.00px;font-size:6.40px;color:#333;-webkit-text-stroke:0.17px #333;">0</div>
<div class="r" style="left:409.76px;top:507.80px;width:0.90px;height:2.20px;background:#222;"></div>
<div class="t" style="left:408.43px;top:498.00px;font-size:6.40px;color:#333;-webkit-text-stroke:0.17px #333;">5</div>
<div class="r" style="left:423.07px;top:507.80px;width:0.90px;height:2.20px;background:#222;"></div>
<div class="t" style="left:419.96px;top:498.00px;font-size:6.40px;color:#333;-webkit-text-stroke:0.17px #333;">10</div>
<div class="r" style="left:436.38px;top:507.80px;width:0.90px;height:2.20px;background:#222;"></div>
<div class="t" style="left:433.27px;top:498.00px;font-size:6.40px;color:#333;-webkit-text-stroke:0.17px #333;">15</div>
<div class="r" style="left:449.69px;top:507.80px;width:0.90px;height:2.20px;background:#222;"></div>
<div class="t" style="left:446.58px;top:498.00px;font-size:6.40px;color:#333;-webkit-text-stroke:0.17px #333;">20</div>
<div class="r" style="left:463.00px;top:507.80px;width:0.90px;height:2.20px;background:#222;"></div>
<div class="t" style="left:459.89px;top:498.00px;font-size:6.40px;color:#333;-webkit-text-stroke:0.17px #333;">25</div>
<div class="r" style="left:397.40px;top:513.20px;width:7.19px;height:3.80px;background:#8a85cb;"></div>
<div class="r" style="left:394.40px;top:514.65px;width:2.50px;height:0.90px;background:#222;"></div>
<div class="t" style="left:407.79px;top:512.00px;font-size:6.60px;color:#2a2a2a;-webkit-text-stroke:0.17px #2a2a2a;">30</div>
<div class="r" style="left:397.40px;top:519.65px;width:5.91px;height:3.80px;background:#8a85cb;"></div>
<div class="r" style="left:394.40px;top:521.10px;width:2.50px;height:0.90px;background:#222;"></div>
<div class="t" style="left:406.51px;top:519.00px;font-size:6.60px;color:#2a2a2a;-webkit-text-stroke:0.17px #2a2a2a;">25</div>
<div class="r" style="left:397.40px;top:526.10px;width:6.42px;height:3.80px;background:#8a85cb;"></div>
<div class="r" style="left:394.40px;top:527.55px;width:2.50px;height:0.90px;background:#222;"></div>
<div class="t" style="left:407.02px;top:525.00px;font-size:6.60px;color:#2a2a2a;-webkit-text-stroke:0.17px #2a2a2a;">27</div>
<div class="r" style="left:397.40px;top:532.55px;width:11.80px;height:3.80px;background:#8a85cb;"></div>
<div class="r" style="left:394.40px;top:534.00px;width:2.50px;height:0.90px;background:#222;"></div>
<div class="t" style="left:412.40px;top:532.00px;font-size:6.60px;color:#2a2a2a;-webkit-text-stroke:0.17px #2a2a2a;">48</div>
<div class="r" style="left:397.40px;top:539.00px;width:8.47px;height:3.80px;background:#8a85cb;"></div>
<div class="r" style="left:394.40px;top:540.45px;width:2.50px;height:0.90px;background:#222;"></div>
<div class="t" style="left:409.07px;top:538.00px;font-size:6.60px;color:#2a2a2a;-webkit-text-stroke:0.17px #2a2a2a;">35</div>
<div class="r" style="left:397.40px;top:545.45px;width:10.52px;height:3.80px;background:#8a85cb;"></div>
<div class="r" style="left:394.40px;top:546.90px;width:2.50px;height:0.90px;background:#222;"></div>
<div class="t" style="left:411.12px;top:545.00px;font-size:6.60px;color:#2a2a2a;-webkit-text-stroke:0.17px #2a2a2a;">43</div>
<div class="r" style="left:397.40px;top:551.90px;width:12.31px;height:3.80px;background:#8a85cb;"></div>
<div class="r" style="left:394.40px;top:553.35px;width:2.50px;height:0.90px;background:#222;"></div>
<div class="t" style="left:412.91px;top:551.00px;font-size:6.60px;color:#2a2a2a;-webkit-text-stroke:0.17px #2a2a2a;">50</div>
<div class="r" style="left:397.40px;top:558.35px;width:25.12px;height:3.80px;background:#8a85cb;"></div>
<div class="r" style="left:394.40px;top:559.80px;width:2.50px;height:0.90px;background:#222;"></div>
<div class="t" style="left:425.72px;top:558.00px;font-size:6.60px;color:#2a2a2a;-webkit-text-stroke:0.17px #2a2a2a;">100</div>
<div class="r" style="left:397.40px;top:564.80px;width:17.43px;height:3.80px;background:#8a85cb;"></div>
<div class="r" style="left:394.40px;top:566.25px;width:2.50px;height:0.90px;background:#222;"></div>
<div class="t" style="left:418.03px;top:564.00px;font-size:6.60px;color:#2a2a2a;-webkit-text-stroke:0.17px #2a2a2a;">70</div>
<div class="r" style="left:397.40px;top:571.25px;width:20.00px;height:3.80px;background:#8a85cb;"></div>
<div class="r" style="left:394.40px;top:572.70px;width:2.50px;height:0.90px;background:#222;"></div>
<div class="t" style="left:420.60px;top:570.00px;font-size:6.60px;color:#2a2a2a;-webkit-text-stroke:0.17px #2a2a2a;">80</div>
<div class="r" style="left:397.40px;top:577.70px;width:17.18px;height:3.80px;background:#8a85cb;"></div>
<div class="r" style="left:394.40px;top:579.15px;width:2.50px;height:0.90px;background:#222;"></div>
<div class="t" style="left:417.78px;top:577.00px;font-size:6.60px;color:#2a2a2a;-webkit-text-stroke:0.17px #2a2a2a;">69</div>
<div class="r" style="left:397.40px;top:584.15px;width:27.68px;height:3.80px;background:#8a85cb;"></div>
<div class="r" style="left:394.40px;top:585.60px;width:2.50px;height:0.90px;background:#222;"></div>
<div class="t" style="left:428.28px;top:583.00px;font-size:6.60px;color:#2a2a2a;-webkit-text-stroke:0.17px #2a2a2a;">110</div>
<div class="r" style="left:397.40px;top:590.60px;width:32.55px;height:3.80px;background:#8a85cb;"></div>
<div class="r" style="left:394.40px;top:592.05px;width:2.50px;height:0.90px;background:#222;"></div>
<div class="t" style="left:433.15px;top:590.00px;font-size:6.60px;color:#2a2a2a;-webkit-text-stroke:0.17px #2a2a2a;">129</div>
<div class="r" style="left:397.40px;top:597.05px;width:29.22px;height:3.80px;background:#8a85cb;"></div>
<div class="r" style="left:394.40px;top:598.50px;width:2.50px;height:0.90px;background:#222;"></div>
<div class="t" style="left:429.82px;top:596.00px;font-size:6.60px;color:#2a2a2a;-webkit-text-stroke:0.17px #2a2a2a;">116</div>
<div class="r" style="left:397.40px;top:603.50px;width:26.91px;height:3.80px;background:#8a85cb;"></div>
<div class="r" style="left:394.40px;top:604.95px;width:2.50px;height:0.90px;background:#222;"></div>
<div class="t" style="left:427.51px;top:603.00px;font-size:6.60px;color:#2a2a2a;-webkit-text-stroke:0.17px #2a2a2a;">107</div>
<div class="t" style="left:223.10px;top:485.00px;font-size:8.80px;color:#333;font-weight:bold;-webkit-text-stroke:0.18px #333;transform:scaleX(0.621);">% Frequency</div>
<div class="t" style="left:414.60px;top:486.00px;font-size:8.80px;color:#333;font-weight:bold;-webkit-text-stroke:0.18px #333;transform:scaleX(0.624);">% Frequency</div>
<div class="t" style="left:103.64px;top:610.07px;font-size:6.30px;color:#333;transform-origin:8.76px 5.33px;transform:rotate(-45deg);">0.0</div>
<div class="t" style="left:149.44px;top:610.07px;font-size:6.30px;color:#333;transform-origin:8.76px 5.33px;transform:rotate(-45deg);">0.5</div>
<div class="t" style="left:195.64px;top:610.07px;font-size:6.30px;color:#333;transform-origin:8.76px 5.33px;transform:rotate(-45deg);">1.0</div>
<div class="t" style="left:293.64px;top:611.67px;font-size:6.30px;color:#333;transform-origin:8.76px 5.33px;transform:rotate(-45deg);">0.0</div>
<div class="t" style="left:339.04px;top:611.67px;font-size:6.30px;color:#333;transform-origin:8.76px 5.33px;transform:rotate(-45deg);">0.5</div>
<div class="t" style="left:387.84px;top:611.67px;font-size:6.30px;color:#333;transform-origin:8.76px 5.33px;transform:rotate(-45deg);">1.0</div>
<div class="t" style="left:119.00px;top:624.00px;font-size:6.60px;color:#555;-webkit-text-stroke:0.17px #555;transform:scaleX(0.960);">C1D1</div>
<div class="t" style="left:311.00px;top:623.00px;font-size:6.60px;color:#444;-webkit-text-stroke:0.17px #444;transform:scaleX(1.008);">C4D29</div>
<div class="t" style="left:143.80px;top:629.00px;font-size:8.60px;color:#333;font-weight:bold;-webkit-text-stroke:0.18px #333;transform:scaleX(0.626);">% Fraction</div>
<div class="t" style="left:336.00px;top:629.00px;font-size:8.60px;color:#333;font-weight:bold;-webkit-text-stroke:0.18px #333;transform:scaleX(0.637);">% Fraction</div>
</body></html>
